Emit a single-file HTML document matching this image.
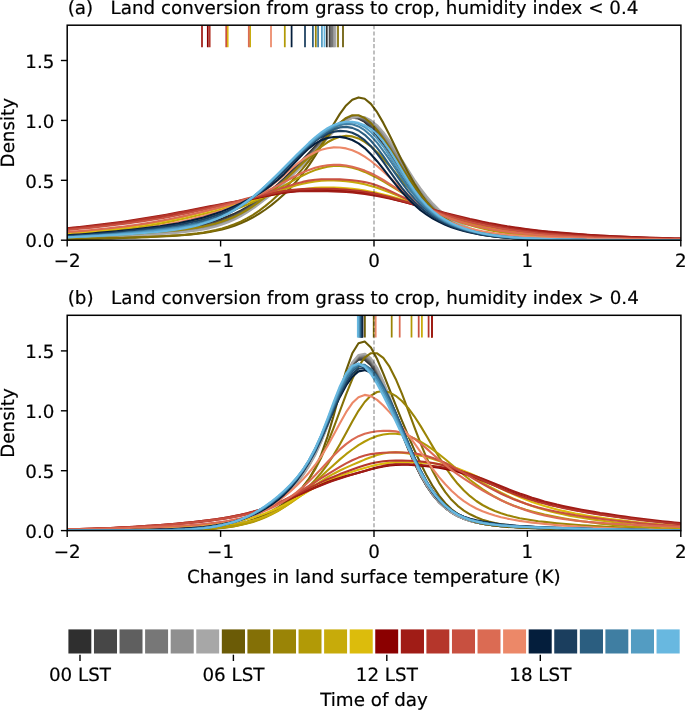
<!DOCTYPE html>
<html><head><meta charset="utf-8"><title>Figure</title>
<style>html,body{margin:0;padding:0;background:#fff}svg{display:block;will-change:transform}
text{font-family:"DejaVu Sans","Liberation Sans",sans-serif;font-size:18.3px;fill:#000;stroke:#000;stroke-width:0.2px;text-rendering:geometricPrecision}</style></head>
<body><svg width="685" height="710" viewBox="0 0 685 710">
<rect width="685" height="710" fill="#fff"/>
<clipPath id="clipa"><rect x="67.2" y="25.2" width="613.7" height="215.0"/></clipPath>
<g clip-path="url(#clipa)" fill="none" stroke-width="2.1" stroke-linejoin="round">
<path d="M67.2 238.0 L73.3 237.7 L79.5 237.4 L85.7 237.1 L91.9 236.8 L98.1 236.4 L104.3 236.1 L110.5 235.7 L116.7 235.2 L122.9 234.8 L129.1 234.3 L135.3 233.7 L141.5 233.2 L147.7 232.6 L153.9 232.0 L160.1 231.3 L166.3 230.6 L172.5 229.8 L178.7 228.9 L184.9 227.9 L191.1 226.8 L197.3 225.6 L203.5 224.2 L209.7 222.6 L215.9 220.8 L222.1 218.7 L228.3 216.3 L234.5 213.6 L240.7 210.6 L246.9 207.2 L253.1 203.4 L259.3 199.2 L265.5 194.6 L271.7 189.6 L277.9 184.3 L284.1 178.6 L290.3 172.6 L296.5 166.3 L302.7 159.8 L308.9 153.2 L315.1 146.5 L321.3 140.0 L327.5 133.7 L333.7 127.8 L339.9 122.9 L346.1 119.3 L352.3 117.7 L358.5 118.5 L364.7 121.9 L370.9 127.9 L377.1 135.9 L383.3 145.3 L389.5 155.4 L395.7 165.5 L401.9 175.3 L408.1 184.4 L414.3 192.7 L420.5 200.2 L426.7 206.7 L432.9 212.4 L439.1 217.2 L445.3 221.3 L451.5 224.6 L457.7 227.4 L463.9 229.7 L470.1 231.5 L476.3 233.0 L482.5 234.3 L488.7 235.3 L494.9 236.1 L501.1 236.7 L507.3 237.3 L513.5 237.7 L519.7 238.1 L525.9 238.4 L532.1 238.7 L538.3 238.9 L544.5 239.1 L550.7 239.2 L556.9 239.4 L563.1 239.5 L569.3 239.6 L575.5 239.7 L581.7 239.7 L587.9 239.8 L594.1 239.9 L600.3 239.9 L606.5 240.0 L612.7 240.0 L618.9 240.0 L625.1 240.1 L631.3 240.1 L637.5 240.1 L643.7 240.1 L649.9 240.1 L656.1 240.1 L662.3 240.2 L668.5 240.2 L674.7 240.2 L680.8 240.2" stroke="#2f2f2f"/>
<path d="M67.2 238.1 L73.3 237.8 L79.5 237.5 L85.7 237.2 L91.9 236.9 L98.1 236.5 L104.3 236.2 L110.5 235.8 L116.7 235.3 L122.9 234.9 L129.1 234.4 L135.3 233.9 L141.5 233.3 L147.7 232.8 L153.9 232.2 L160.1 231.6 L166.3 230.9 L172.5 230.2 L178.7 229.5 L184.9 228.7 L191.1 227.8 L197.3 226.7 L203.5 225.5 L209.7 224.1 L215.9 222.3 L222.1 220.3 L228.3 217.9 L234.5 215.1 L240.7 211.9 L246.9 208.2 L253.1 204.1 L259.3 199.7 L265.5 195.0 L271.7 189.9 L277.9 184.7 L284.1 179.2 L290.3 173.5 L296.5 167.6 L302.7 161.4 L308.9 154.8 L315.1 148.0 L321.3 141.1 L327.5 134.4 L333.7 128.3 L339.9 123.1 L346.1 119.4 L352.3 117.6 L358.5 118.0 L364.7 120.8 L370.9 125.9 L377.1 133.0 L383.3 141.7 L389.5 151.4 L395.7 161.6 L401.9 171.7 L408.1 181.4 L414.3 190.3 L420.5 198.2 L426.7 205.1 L432.9 210.9 L439.1 215.9 L445.3 220.0 L451.5 223.5 L457.7 226.4 L463.9 228.7 L470.1 230.7 L476.3 232.4 L482.5 233.7 L488.7 234.8 L494.9 235.7 L501.1 236.5 L507.3 237.1 L513.5 237.6 L519.7 238.1 L525.9 238.4 L532.1 238.7 L538.3 238.9 L544.5 239.1 L550.7 239.3 L556.9 239.4 L563.1 239.5 L569.3 239.6 L575.5 239.7 L581.7 239.8 L587.9 239.9 L594.1 239.9 L600.3 240.0 L606.5 240.0 L612.7 240.0 L618.9 240.1 L625.1 240.1 L631.3 240.1 L637.5 240.1 L643.7 240.1 L649.9 240.1 L656.1 240.2 L662.3 240.2 L668.5 240.2 L674.7 240.2 L680.8 240.2" stroke="#474747"/>
<path d="M67.2 238.2 L73.3 238.0 L79.5 237.7 L85.7 237.4 L91.9 237.1 L98.1 236.8 L104.3 236.4 L110.5 236.0 L116.7 235.6 L122.9 235.2 L129.1 234.7 L135.3 234.3 L141.5 233.8 L147.7 233.2 L153.9 232.7 L160.1 232.1 L166.3 231.5 L172.5 230.9 L178.7 230.2 L184.9 229.5 L191.1 228.6 L197.3 227.6 L203.5 226.5 L209.7 225.1 L215.9 223.4 L222.1 221.4 L228.3 219.0 L234.5 216.2 L240.7 213.0 L246.9 209.3 L253.1 205.2 L259.3 200.8 L265.5 196.0 L271.7 190.9 L277.9 185.7 L284.1 180.2 L290.3 174.5 L296.5 168.6 L302.7 162.3 L308.9 155.8 L315.1 149.0 L321.3 142.1 L327.5 135.4 L333.7 129.1 L339.9 123.7 L346.1 119.7 L352.3 117.6 L358.5 117.5 L364.7 119.8 L370.9 124.3 L377.1 130.9 L383.3 139.2 L389.5 148.6 L395.7 158.6 L401.9 168.7 L408.1 178.5 L414.3 187.6 L420.5 195.8 L426.7 203.0 L432.9 209.1 L439.1 214.4 L445.3 218.8 L451.5 222.5 L457.7 225.5 L463.9 228.0 L470.1 230.1 L476.3 231.9 L482.5 233.3 L488.7 234.5 L494.9 235.5 L501.1 236.3 L507.3 237.0 L513.5 237.5 L519.7 238.0 L525.9 238.4 L532.1 238.7 L538.3 238.9 L544.5 239.1 L550.7 239.3 L556.9 239.4 L563.1 239.6 L569.3 239.7 L575.5 239.7 L581.7 239.8 L587.9 239.9 L594.1 239.9 L600.3 240.0 L606.5 240.0 L612.7 240.0 L618.9 240.1 L625.1 240.1 L631.3 240.1 L637.5 240.1 L643.7 240.1 L649.9 240.1 L656.1 240.2 L662.3 240.2 L668.5 240.2 L674.7 240.2 L680.8 240.2" stroke="#5f5f5f"/>
<path d="M67.2 238.3 L73.3 238.1 L79.5 237.9 L85.7 237.6 L91.9 237.3 L98.1 237.0 L104.3 236.7 L110.5 236.3 L116.7 235.9 L122.9 235.5 L129.1 235.1 L135.3 234.7 L141.5 234.2 L147.7 233.8 L153.9 233.3 L160.1 232.7 L166.3 232.2 L172.5 231.6 L178.7 231.0 L184.9 230.3 L191.1 229.5 L197.3 228.5 L203.5 227.4 L209.7 226.1 L215.9 224.5 L222.1 222.5 L228.3 220.1 L234.5 217.4 L240.7 214.1 L246.9 210.4 L253.1 206.3 L259.3 201.8 L265.5 197.0 L271.7 192.0 L277.9 186.7 L284.1 181.2 L290.3 175.5 L296.5 169.5 L302.7 163.3 L308.9 156.8 L315.1 150.0 L321.3 143.1 L327.5 136.3 L333.7 129.9 L339.9 124.4 L346.1 120.1 L352.3 117.6 L358.5 117.1 L364.7 118.9 L370.9 122.9 L377.1 128.9 L383.3 136.7 L389.5 145.8 L395.7 155.6 L401.9 165.7 L408.1 175.6 L414.3 184.9 L420.5 193.3 L426.7 200.8 L432.9 207.3 L439.1 212.9 L445.3 217.5 L451.5 221.4 L457.7 224.6 L463.9 227.3 L470.1 229.5 L476.3 231.4 L482.5 232.9 L488.7 234.2 L494.9 235.3 L501.1 236.1 L507.3 236.9 L513.5 237.5 L519.7 238.0 L525.9 238.4 L532.1 238.7 L538.3 239.0 L544.5 239.2 L550.7 239.4 L556.9 239.5 L563.1 239.6 L569.3 239.7 L575.5 239.8 L581.7 239.9 L587.9 239.9 L594.1 240.0 L600.3 240.0 L606.5 240.0 L612.7 240.1 L618.9 240.1 L625.1 240.1 L631.3 240.1 L637.5 240.1 L643.7 240.1 L649.9 240.2 L656.1 240.2 L662.3 240.2 L668.5 240.2 L674.7 240.2 L680.8 240.2" stroke="#777777"/>
<path d="M67.2 238.4 L73.3 238.2 L79.5 238.0 L85.7 237.8 L91.9 237.5 L98.1 237.2 L104.3 236.9 L110.5 236.6 L116.7 236.2 L122.9 235.9 L129.1 235.5 L135.3 235.1 L141.5 234.7 L147.7 234.3 L153.9 233.8 L160.1 233.4 L166.3 232.9 L172.5 232.3 L178.7 231.8 L184.9 231.1 L191.1 230.4 L197.3 229.5 L203.5 228.4 L209.7 227.1 L215.9 225.5 L222.1 223.6 L228.3 221.2 L234.5 218.5 L240.7 215.2 L246.9 211.6 L253.1 207.4 L259.3 202.9 L265.5 198.1 L271.7 193.0 L277.9 187.7 L284.1 182.2 L290.3 176.4 L296.5 170.5 L302.7 164.3 L308.9 157.8 L315.1 151.0 L321.3 144.1 L327.5 137.3 L333.7 130.8 L339.9 125.1 L346.1 120.6 L352.3 117.7 L358.5 116.8 L364.7 118.0 L370.9 121.5 L377.1 127.0 L383.3 134.4 L389.5 143.1 L395.7 152.8 L401.9 162.8 L408.1 172.7 L414.3 182.2 L420.5 190.9 L426.7 198.7 L432.9 205.5 L439.1 211.3 L445.3 216.2 L451.5 220.3 L457.7 223.7 L463.9 226.6 L470.1 228.9 L476.3 230.9 L482.5 232.5 L488.7 233.9 L494.9 235.0 L501.1 236.0 L507.3 236.8 L513.5 237.4 L519.7 237.9 L525.9 238.4 L532.1 238.7 L538.3 239.0 L544.5 239.2 L550.7 239.4 L556.9 239.6 L563.1 239.7 L569.3 239.8 L575.5 239.8 L581.7 239.9 L587.9 240.0 L594.1 240.0 L600.3 240.0 L606.5 240.1 L612.7 240.1 L618.9 240.1 L625.1 240.1 L631.3 240.1 L637.5 240.1 L643.7 240.2 L649.9 240.2 L656.1 240.2 L662.3 240.2 L668.5 240.2 L674.7 240.2 L680.8 240.2" stroke="#8f8f8f"/>
<path d="M67.2 238.6 L73.3 238.4 L79.5 238.2 L85.7 237.9 L91.9 237.7 L98.1 237.4 L104.3 237.2 L110.5 236.9 L116.7 236.6 L122.9 236.2 L129.1 235.9 L135.3 235.6 L141.5 235.2 L147.7 234.8 L153.9 234.4 L160.1 234.0 L166.3 233.6 L172.5 233.1 L178.7 232.6 L184.9 231.9 L191.1 231.2 L197.3 230.4 L203.5 229.4 L209.7 228.1 L215.9 226.5 L222.1 224.6 L228.3 222.3 L234.5 219.6 L240.7 216.3 L246.9 212.7 L253.1 208.5 L259.3 204.0 L265.5 199.2 L271.7 194.1 L277.9 188.7 L284.1 183.2 L290.3 177.4 L296.5 171.4 L302.7 165.2 L308.9 158.7 L315.1 152.0 L321.3 145.1 L327.5 138.2 L333.7 131.7 L339.9 125.9 L346.1 121.1 L352.3 117.9 L358.5 116.5 L364.7 117.3 L370.9 120.2 L377.1 125.2 L383.3 132.1 L389.5 140.5 L395.7 150.0 L401.9 159.9 L408.1 169.9 L414.3 179.5 L420.5 188.4 L426.7 196.5 L432.9 203.6 L439.1 209.7 L445.3 214.9 L451.5 219.2 L457.7 222.8 L463.9 225.8 L470.1 228.3 L476.3 230.4 L482.5 232.2 L488.7 233.6 L494.9 234.8 L501.1 235.8 L507.3 236.7 L513.5 237.3 L519.7 237.9 L525.9 238.4 L532.1 238.7 L538.3 239.0 L544.5 239.3 L550.7 239.5 L556.9 239.6 L563.1 239.7 L569.3 239.8 L575.5 239.9 L581.7 240.0 L587.9 240.0 L594.1 240.0 L600.3 240.1 L606.5 240.1 L612.7 240.1 L618.9 240.1 L625.1 240.1 L631.3 240.2 L637.5 240.2 L643.7 240.2 L649.9 240.2 L656.1 240.2 L662.3 240.2 L668.5 240.2 L674.7 240.2 L680.8 240.2" stroke="#a7a7a7"/>
<path d="M67.2 239.3 L73.3 239.2 L79.5 239.1 L85.7 239.0 L91.9 238.8 L98.1 238.7 L104.3 238.5 L110.5 238.4 L116.7 238.2 L122.9 238.0 L129.1 237.8 L135.3 237.6 L141.5 237.3 L147.7 237.1 L153.9 236.8 L160.1 236.5 L166.3 236.2 L172.5 235.9 L178.7 235.5 L184.9 235.0 L191.1 234.4 L197.3 233.8 L203.5 233.0 L209.7 232.0 L215.9 230.8 L222.1 229.4 L228.3 227.7 L234.5 225.7 L240.7 223.3 L246.9 220.5 L253.1 217.3 L259.3 213.7 L265.5 209.5 L271.7 204.9 L277.9 199.8 L284.1 194.2 L290.3 188.0 L296.5 181.2 L302.7 173.7 L308.9 165.3 L315.1 155.9 L321.3 145.7 L327.5 134.9 L333.7 124.0 L339.9 113.9 L346.1 105.4 L352.3 99.7 L358.5 97.4 L364.7 98.8 L370.9 103.9 L377.1 112.2 L383.3 122.9 L389.5 135.0 L395.7 147.8 L401.9 160.6 L408.1 172.6 L414.3 183.6 L420.5 193.4 L426.7 201.9 L432.9 209.0 L439.1 214.9 L445.3 219.8 L451.5 223.8 L457.7 227.0 L463.9 229.6 L470.1 231.6 L476.3 233.3 L482.5 234.6 L488.7 235.7 L494.9 236.5 L501.1 237.2 L507.3 237.7 L513.5 238.1 L519.7 238.5 L525.9 238.7 L532.1 238.9 L538.3 239.1 L544.5 239.3 L550.7 239.4 L556.9 239.5 L563.1 239.6 L569.3 239.7 L575.5 239.7 L581.7 239.8 L587.9 239.8 L594.1 239.9 L600.3 239.9 L606.5 240.0 L612.7 240.0 L618.9 240.0 L625.1 240.1 L631.3 240.1 L637.5 240.1 L643.7 240.1 L649.9 240.1 L656.1 240.1 L662.3 240.1 L668.5 240.2 L674.7 240.2 L680.8 240.2" stroke="#6b5b06"/>
<path d="M67.2 239.1 L73.3 239.0 L79.5 238.9 L85.7 238.7 L91.9 238.6 L98.1 238.4 L104.3 238.3 L110.5 238.1 L116.7 237.9 L122.9 237.7 L129.1 237.5 L135.3 237.3 L141.5 237.1 L147.7 236.9 L153.9 236.6 L160.1 236.3 L166.3 236.0 L172.5 235.6 L178.7 235.2 L184.9 234.7 L191.1 234.1 L197.3 233.4 L203.5 232.5 L209.7 231.4 L215.9 230.1 L222.1 228.5 L228.3 226.6 L234.5 224.3 L240.7 221.6 L246.9 218.4 L253.1 214.8 L259.3 210.6 L265.5 205.9 L271.7 200.8 L277.9 195.1 L284.1 189.1 L290.3 182.6 L296.5 175.7 L302.7 168.6 L308.9 161.0 L315.1 153.2 L321.3 145.1 L327.5 137.0 L333.7 129.4 L339.9 122.8 L346.1 117.9 L352.3 115.3 L358.5 115.3 L364.7 118.0 L370.9 123.1 L377.1 130.2 L383.3 138.6 L389.5 148.0 L395.7 157.9 L401.9 167.8 L408.1 177.4 L414.3 186.4 L420.5 194.7 L426.7 202.1 L432.9 208.6 L439.1 214.1 L445.3 218.8 L451.5 222.7 L457.7 226.0 L463.9 228.6 L470.1 230.8 L476.3 232.6 L482.5 234.0 L488.7 235.1 L494.9 236.0 L501.1 236.8 L507.3 237.3 L513.5 237.8 L519.7 238.2 L525.9 238.4 L532.1 238.7 L538.3 238.9 L544.5 239.0 L550.7 239.2 L556.9 239.3 L563.1 239.4 L569.3 239.5 L575.5 239.6 L581.7 239.7 L587.9 239.7 L594.1 239.8 L600.3 239.8 L606.5 239.9 L612.7 239.9 L618.9 239.9 L625.1 240.0 L631.3 240.0 L637.5 240.0 L643.7 240.1 L649.9 240.1 L656.1 240.1 L662.3 240.1 L668.5 240.1 L674.7 240.1 L680.8 240.1" stroke="#847006"/>
<path d="M67.2 237.7 L73.3 237.4 L79.5 237.1 L85.7 236.8 L91.9 236.5 L98.1 236.2 L104.3 235.8 L110.5 235.4 L116.7 235.1 L122.9 234.6 L129.1 234.2 L135.3 233.8 L141.5 233.3 L147.7 232.8 L153.9 232.3 L160.1 231.8 L166.3 231.3 L172.5 230.7 L178.7 230.1 L184.9 229.4 L191.1 228.5 L197.3 227.6 L203.5 226.5 L209.7 225.1 L215.9 223.5 L222.1 221.6 L228.3 219.3 L234.5 216.7 L240.7 213.6 L246.9 210.0 L253.1 206.1 L259.3 201.7 L265.5 196.9 L271.7 191.8 L277.9 186.4 L284.1 180.8 L290.3 174.9 L296.5 169.0 L302.7 163.0 L308.9 157.2 L315.1 151.6 L321.3 146.6 L327.5 142.3 L333.7 139.0 L339.9 136.7 L346.1 135.9 L352.3 136.4 L358.5 138.4 L364.7 141.8 L370.9 146.4 L377.1 152.2 L383.3 158.7 L389.5 165.8 L395.7 173.2 L401.9 180.5 L408.1 187.6 L414.3 194.4 L420.5 200.6 L426.7 206.2 L432.9 211.2 L439.1 215.5 L445.3 219.3 L451.5 222.5 L457.7 225.3 L463.9 227.6 L470.1 229.5 L476.3 231.2 L482.5 232.5 L488.7 233.7 L494.9 234.6 L501.1 235.4 L507.3 236.1 L513.5 236.7 L519.7 237.1 L525.9 237.5 L532.1 237.9 L538.3 238.2 L544.5 238.4 L550.7 238.6 L556.9 238.8 L563.1 239.0 L569.3 239.1 L575.5 239.3 L581.7 239.4 L587.9 239.5 L594.1 239.6 L600.3 239.7 L606.5 239.7 L612.7 239.8 L618.9 239.8 L625.1 239.9 L631.3 239.9 L637.5 240.0 L643.7 240.0 L649.9 240.0 L656.1 240.1 L662.3 240.1 L668.5 240.1 L674.7 240.1 L680.8 240.1" stroke="#9a8406"/>
<path d="M67.2 234.8 L73.3 234.5 L79.5 234.1 L85.7 233.7 L91.9 233.3 L98.1 232.8 L104.3 232.3 L110.5 231.8 L116.7 231.2 L122.9 230.6 L129.1 229.9 L135.3 229.2 L141.5 228.5 L147.7 227.7 L153.9 226.9 L160.1 226.0 L166.3 225.1 L172.5 224.1 L178.7 223.0 L184.9 221.9 L191.1 220.8 L197.3 219.5 L203.5 218.2 L209.7 216.8 L215.9 215.2 L222.1 213.5 L228.3 211.6 L234.5 209.5 L240.7 207.3 L246.9 204.8 L253.1 202.0 L259.3 199.1 L265.5 195.9 L271.7 192.6 L277.9 189.1 L284.1 185.6 L290.3 182.1 L296.5 178.7 L302.7 175.5 L308.9 172.6 L315.1 170.1 L321.3 168.2 L327.5 166.8 L333.7 166.0 L339.9 165.9 L346.1 166.5 L352.3 167.7 L358.5 169.5 L364.7 171.9 L370.9 174.7 L377.1 177.9 L383.3 181.4 L389.5 185.0 L395.7 188.8 L401.9 192.6 L408.1 196.5 L414.3 200.2 L420.5 203.8 L426.7 207.2 L432.9 210.4 L439.1 213.5 L445.3 216.3 L451.5 218.9 L457.7 221.3 L463.9 223.4 L470.1 225.3 L476.3 227.1 L482.5 228.6 L488.7 230.0 L494.9 231.2 L501.1 232.2 L507.3 233.1 L513.5 233.9 L519.7 234.6 L525.9 235.3 L532.1 235.8 L538.3 236.3 L544.5 236.7 L550.7 237.0 L556.9 237.3 L563.1 237.6 L569.3 237.8 L575.5 238.1 L581.7 238.2 L587.9 238.4 L594.1 238.6 L600.3 238.7 L606.5 238.8 L612.7 238.9 L618.9 239.0 L625.1 239.1 L631.3 239.2 L637.5 239.3 L643.7 239.4 L649.9 239.4 L656.1 239.5 L662.3 239.6 L668.5 239.6 L674.7 239.7 L680.8 239.7" stroke="#b29a06"/>
<path d="M67.2 234.2 L73.3 233.8 L79.5 233.4 L85.7 232.9 L91.9 232.4 L98.1 231.9 L104.3 231.3 L110.5 230.7 L116.7 230.1 L122.9 229.3 L129.1 228.5 L135.3 227.7 L141.5 226.8 L147.7 225.8 L153.9 224.7 L160.1 223.6 L166.3 222.4 L172.5 221.1 L178.7 219.8 L184.9 218.5 L191.1 217.0 L197.3 215.6 L203.5 214.0 L209.7 212.5 L215.9 210.9 L222.1 209.3 L228.3 207.6 L234.5 205.8 L240.7 204.0 L246.9 202.1 L253.1 200.2 L259.3 198.1 L265.5 196.0 L271.7 193.8 L277.9 191.5 L284.1 189.3 L290.3 187.2 L296.5 185.3 L302.7 183.7 L308.9 182.4 L315.1 181.4 L321.3 180.8 L327.5 180.4 L333.7 180.4 L339.9 180.6 L346.1 181.1 L352.3 181.9 L358.5 182.9 L364.7 184.3 L370.9 185.9 L377.1 187.8 L383.3 189.9 L389.5 192.2 L395.7 194.7 L401.9 197.3 L408.1 200.0 L414.3 202.7 L420.5 205.4 L426.7 208.1 L432.9 210.7 L439.1 213.2 L445.3 215.5 L451.5 217.8 L457.7 219.9 L463.9 221.8 L470.1 223.6 L476.3 225.2 L482.5 226.7 L488.7 228.0 L494.9 229.2 L501.1 230.3 L507.3 231.3 L513.5 232.1 L519.7 232.9 L525.9 233.5 L532.1 234.1 L538.3 234.7 L544.5 235.1 L550.7 235.6 L556.9 236.0 L563.1 236.3 L569.3 236.6 L575.5 236.9 L581.7 237.2 L587.9 237.4 L594.1 237.7 L600.3 237.9 L606.5 238.1 L612.7 238.2 L618.9 238.4 L625.1 238.6 L631.3 238.7 L637.5 238.8 L643.7 238.9 L649.9 239.1 L656.1 239.2 L662.3 239.3 L668.5 239.3 L674.7 239.4 L680.8 239.5" stroke="#c7ab0a"/>
<path d="M67.2 233.3 L73.3 232.8 L79.5 232.3 L85.7 231.8 L91.9 231.3 L98.1 230.7 L104.3 230.0 L110.5 229.3 L116.7 228.6 L122.9 227.8 L129.1 226.9 L135.3 226.0 L141.5 225.0 L147.7 224.0 L153.9 222.9 L160.1 221.7 L166.3 220.5 L172.5 219.2 L178.7 217.9 L184.9 216.5 L191.1 215.1 L197.3 213.6 L203.5 212.1 L209.7 210.6 L215.9 209.0 L222.1 207.5 L228.3 205.9 L234.5 204.4 L240.7 202.8 L246.9 201.2 L253.1 199.7 L259.3 198.1 L265.5 196.6 L271.7 195.1 L277.9 193.7 L284.1 192.4 L290.3 191.1 L296.5 190.1 L302.7 189.2 L308.9 188.5 L315.1 187.9 L321.3 187.6 L327.5 187.5 L333.7 187.6 L339.9 187.9 L346.1 188.3 L352.3 188.9 L358.5 189.6 L364.7 190.6 L370.9 191.7 L377.1 192.9 L383.3 194.4 L389.5 196.0 L395.7 197.7 L401.9 199.6 L408.1 201.6 L414.3 203.7 L420.5 205.9 L426.7 208.1 L432.9 210.2 L439.1 212.4 L445.3 214.5 L451.5 216.5 L457.7 218.4 L463.9 220.2 L470.1 221.9 L476.3 223.5 L482.5 225.0 L488.7 226.3 L494.9 227.6 L501.1 228.7 L507.3 229.7 L513.5 230.6 L519.7 231.5 L525.9 232.3 L532.1 232.9 L538.3 233.6 L544.5 234.2 L550.7 234.7 L556.9 235.1 L563.1 235.6 L569.3 236.0 L575.5 236.3 L581.7 236.6 L587.9 236.9 L594.1 237.2 L600.3 237.4 L606.5 237.6 L612.7 237.8 L618.9 238.0 L625.1 238.2 L631.3 238.4 L637.5 238.5 L643.7 238.6 L649.9 238.7 L656.1 238.9 L662.3 239.0 L668.5 239.1 L674.7 239.1 L680.8 239.2" stroke="#dcbc0c"/>
<path d="M67.2 228.8 L73.3 228.3 L79.5 227.6 L85.7 227.0 L91.9 226.4 L98.1 225.7 L104.3 225.0 L110.5 224.3 L116.7 223.5 L122.9 222.7 L129.1 221.9 L135.3 221.0 L141.5 220.1 L147.7 219.2 L153.9 218.2 L160.1 217.2 L166.3 216.1 L172.5 215.0 L178.7 213.9 L184.9 212.7 L191.1 211.5 L197.3 210.2 L203.5 209.0 L209.7 207.7 L215.9 206.4 L222.1 205.2 L228.3 203.9 L234.5 202.6 L240.7 201.4 L246.9 200.1 L253.1 198.8 L259.3 197.5 L265.5 196.3 L271.7 195.0 L277.9 193.8 L284.1 192.8 L290.3 191.9 L296.5 191.2 L302.7 190.7 L308.9 190.3 L315.1 190.1 L321.3 190.0 L327.5 189.9 L333.7 190.1 L339.9 190.3 L346.1 190.7 L352.3 191.3 L358.5 192.0 L364.7 192.9 L370.9 194.0 L377.1 195.2 L383.3 196.6 L389.5 198.1 L395.7 199.7 L401.9 201.3 L408.1 203.0 L414.3 204.8 L420.5 206.6 L426.7 208.4 L432.9 210.2 L439.1 212.0 L445.3 213.7 L451.5 215.3 L457.7 216.9 L463.9 218.5 L470.1 219.9 L476.3 221.3 L482.5 222.6 L488.7 223.8 L494.9 225.0 L501.1 226.0 L507.3 227.0 L513.5 227.9 L519.7 228.8 L525.9 229.6 L532.1 230.3 L538.3 231.0 L544.5 231.6 L550.7 232.2 L556.9 232.8 L563.1 233.3 L569.3 233.7 L575.5 234.2 L581.7 234.6 L587.9 235.0 L594.1 235.4 L600.3 235.7 L606.5 236.0 L612.7 236.3 L618.9 236.6 L625.1 236.9 L631.3 237.1 L637.5 237.4 L643.7 237.6 L649.9 237.8 L656.1 238.0 L662.3 238.2 L668.5 238.3 L674.7 238.5 L680.8 238.6" stroke="#8b0000"/>
<path d="M67.2 228.3 L73.3 227.6 L79.5 227.0 L85.7 226.3 L91.9 225.6 L98.1 224.9 L104.3 224.1 L110.5 223.4 L116.7 222.6 L122.9 221.7 L129.1 220.8 L135.3 219.9 L141.5 218.9 L147.7 217.9 L153.9 216.9 L160.1 215.8 L166.3 214.7 L172.5 213.6 L178.7 212.4 L184.9 211.2 L191.1 210.0 L197.3 208.8 L203.5 207.6 L209.7 206.4 L215.9 205.2 L222.1 204.1 L228.3 202.9 L234.5 201.7 L240.7 200.6 L246.9 199.4 L253.1 198.2 L259.3 196.9 L265.5 195.6 L271.7 194.3 L277.9 193.2 L284.1 192.4 L290.3 191.7 L296.5 191.3 L302.7 191.1 L308.9 191.1 L315.1 191.1 L321.3 191.1 L327.5 191.2 L333.7 191.4 L339.9 191.6 L346.1 192.0 L352.3 192.5 L358.5 193.2 L364.7 194.0 L370.9 194.9 L377.1 196.0 L383.3 197.2 L389.5 198.5 L395.7 200.0 L401.9 201.5 L408.1 203.0 L414.3 204.7 L420.5 206.3 L426.7 208.0 L432.9 209.7 L439.1 211.3 L445.3 213.0 L451.5 214.6 L457.7 216.1 L463.9 217.6 L470.1 219.1 L476.3 220.4 L482.5 221.7 L488.7 223.0 L494.9 224.1 L501.1 225.2 L507.3 226.3 L513.5 227.2 L519.7 228.1 L525.9 229.0 L532.1 229.8 L538.3 230.5 L544.5 231.2 L550.7 231.8 L556.9 232.4 L563.1 232.9 L569.3 233.4 L575.5 233.9 L581.7 234.4 L587.9 234.8 L594.1 235.2 L600.3 235.5 L606.5 235.9 L612.7 236.2 L618.9 236.5 L625.1 236.8 L631.3 237.1 L637.5 237.3 L643.7 237.5 L649.9 237.7 L656.1 237.9 L662.3 238.1 L668.5 238.3 L674.7 238.5 L680.8 238.6" stroke="#a01c16"/>
<path d="M67.2 228.8 L73.3 228.3 L79.5 227.7 L85.7 227.0 L91.9 226.3 L98.1 225.6 L104.3 224.9 L110.5 224.1 L116.7 223.3 L122.9 222.4 L129.1 221.5 L135.3 220.6 L141.5 219.6 L147.7 218.6 L153.9 217.6 L160.1 216.5 L166.3 215.4 L172.5 214.3 L178.7 213.1 L184.9 211.9 L191.1 210.7 L197.3 209.5 L203.5 208.3 L209.7 207.1 L215.9 205.8 L222.1 204.5 L228.3 203.3 L234.5 202.0 L240.7 200.7 L246.9 199.3 L253.1 197.9 L259.3 196.4 L265.5 194.9 L271.7 193.4 L277.9 192.1 L284.1 191.0 L290.3 190.1 L296.5 189.5 L302.7 189.1 L308.9 188.9 L315.1 188.8 L321.3 188.7 L327.5 188.8 L333.7 188.9 L339.9 189.2 L346.1 189.6 L352.3 190.2 L358.5 190.9 L364.7 191.8 L370.9 192.9 L377.1 194.1 L383.3 195.5 L389.5 197.1 L395.7 198.7 L401.9 200.4 L408.1 202.2 L414.3 204.1 L420.5 206.0 L426.7 207.9 L432.9 209.8 L439.1 211.7 L445.3 213.6 L451.5 215.4 L457.7 217.1 L463.9 218.8 L470.1 220.4 L476.3 221.9 L482.5 223.3 L488.7 224.6 L494.9 225.9 L501.1 227.0 L507.3 228.1 L513.5 229.1 L519.7 230.0 L525.9 230.9 L532.1 231.6 L538.3 232.3 L544.5 233.0 L550.7 233.6 L556.9 234.1 L563.1 234.6 L569.3 235.1 L575.5 235.5 L581.7 235.8 L587.9 236.2 L594.1 236.5 L600.3 236.8 L606.5 237.0 L612.7 237.3 L618.9 237.5 L625.1 237.7 L631.3 237.8 L637.5 238.0 L643.7 238.2 L649.9 238.3 L656.1 238.4 L662.3 238.6 L668.5 238.7 L674.7 238.8 L680.8 238.9" stroke="#b5362b"/>
<path d="M67.2 230.0 L73.3 229.4 L79.5 228.8 L85.7 228.2 L91.9 227.6 L98.1 226.9 L104.3 226.2 L110.5 225.5 L116.7 224.7 L122.9 224.0 L129.1 223.1 L135.3 222.3 L141.5 221.4 L147.7 220.5 L153.9 219.5 L160.1 218.5 L166.3 217.4 L172.5 216.2 L178.7 215.0 L184.9 213.8 L191.1 212.5 L197.3 211.1 L203.5 209.7 L209.7 208.2 L215.9 206.6 L222.1 205.1 L228.3 203.5 L234.5 201.9 L240.7 200.2 L246.9 198.5 L253.1 196.9 L259.3 195.1 L265.5 193.3 L271.7 191.5 L277.9 189.5 L284.1 187.5 L290.3 185.4 L296.5 183.5 L302.7 181.9 L308.9 180.6 L315.1 179.8 L321.3 179.3 L327.5 179.2 L333.7 179.2 L339.9 179.4 L346.1 179.7 L352.3 180.2 L358.5 181.0 L364.7 182.1 L370.9 183.6 L377.1 185.5 L383.3 187.9 L389.5 190.7 L395.7 193.6 L401.9 196.7 L408.1 199.8 L414.3 202.8 L420.5 205.6 L426.7 208.3 L432.9 210.8 L439.1 213.1 L445.3 215.2 L451.5 217.1 L457.7 219.0 L463.9 220.7 L470.1 222.2 L476.3 223.7 L482.5 225.1 L488.7 226.3 L494.9 227.5 L501.1 228.6 L507.3 229.6 L513.5 230.5 L519.7 231.3 L525.9 232.1 L532.1 232.8 L538.3 233.5 L544.5 234.0 L550.7 234.6 L556.9 235.1 L563.1 235.5 L569.3 235.9 L575.5 236.3 L581.7 236.6 L587.9 236.9 L594.1 237.2 L600.3 237.5 L606.5 237.7 L612.7 237.9 L618.9 238.1 L625.1 238.3 L631.3 238.5 L637.5 238.7 L643.7 238.8 L649.9 238.9 L656.1 239.1 L662.3 239.2 L668.5 239.3 L674.7 239.4 L680.8 239.4" stroke="#c85040"/>
<path d="M67.2 232.0 L73.3 231.6 L79.5 231.1 L85.7 230.6 L91.9 230.0 L98.1 229.4 L104.3 228.8 L110.5 228.1 L116.7 227.4 L122.9 226.7 L129.1 225.9 L135.3 225.0 L141.5 224.1 L147.7 223.1 L153.9 222.0 L160.1 220.9 L166.3 219.8 L172.5 218.5 L178.7 217.2 L184.9 215.9 L191.1 214.5 L197.3 213.1 L203.5 211.6 L209.7 210.0 L215.9 208.5 L222.1 206.8 L228.3 205.1 L234.5 203.3 L240.7 201.4 L246.9 199.3 L253.1 197.0 L259.3 194.5 L265.5 191.8 L271.7 188.7 L277.9 185.5 L284.1 182.1 L290.3 178.8 L296.5 175.5 L302.7 172.5 L308.9 169.9 L315.1 167.8 L321.3 166.2 L327.5 165.2 L333.7 164.8 L339.9 164.9 L346.1 165.5 L352.3 166.7 L358.5 168.4 L364.7 170.6 L370.9 173.3 L377.1 176.4 L383.3 180.0 L389.5 183.8 L395.7 187.9 L401.9 192.0 L408.1 196.1 L414.3 200.1 L420.5 203.9 L426.7 207.5 L432.9 210.8 L439.1 213.8 L445.3 216.5 L451.5 218.9 L457.7 221.1 L463.9 223.0 L470.1 224.7 L476.3 226.2 L482.5 227.6 L488.7 228.8 L494.9 229.9 L501.1 230.9 L507.3 231.8 L513.5 232.6 L519.7 233.3 L525.9 233.9 L532.1 234.5 L538.3 235.1 L544.5 235.5 L550.7 236.0 L556.9 236.4 L563.1 236.7 L569.3 237.0 L575.5 237.3 L581.7 237.6 L587.9 237.8 L594.1 238.1 L600.3 238.2 L606.5 238.4 L612.7 238.6 L618.9 238.7 L625.1 238.9 L631.3 239.0 L637.5 239.1 L643.7 239.2 L649.9 239.3 L656.1 239.4 L662.3 239.4 L668.5 239.5 L674.7 239.6 L680.8 239.6" stroke="#db6b53"/>
<path d="M67.2 235.2 L73.3 234.9 L79.5 234.6 L85.7 234.2 L91.9 233.9 L98.1 233.4 L104.3 232.9 L110.5 232.4 L116.7 231.8 L122.9 231.2 L129.1 230.4 L135.3 229.7 L141.5 228.8 L147.7 227.9 L153.9 226.9 L160.1 225.8 L166.3 224.6 L172.5 223.4 L178.7 222.1 L184.9 220.7 L191.1 219.2 L197.3 217.6 L203.5 216.0 L209.7 214.2 L215.9 212.4 L222.1 210.4 L228.3 208.2 L234.5 205.9 L240.7 203.3 L246.9 200.5 L253.1 197.3 L259.3 193.8 L265.5 189.8 L271.7 185.4 L277.9 180.4 L284.1 175.1 L290.3 169.7 L296.5 164.4 L302.7 159.6 L308.9 155.5 L315.1 152.2 L321.3 149.7 L327.5 148.2 L333.7 147.4 L339.9 147.5 L346.1 148.4 L352.3 150.3 L358.5 153.0 L364.7 156.6 L370.9 161.0 L377.1 166.0 L383.3 171.5 L389.5 177.3 L395.7 183.2 L401.9 189.0 L408.1 194.6 L414.3 199.9 L420.5 204.8 L426.7 209.3 L432.9 213.3 L439.1 216.8 L445.3 219.9 L451.5 222.6 L457.7 224.9 L463.9 226.9 L470.1 228.6 L476.3 230.0 L482.5 231.3 L488.7 232.3 L494.9 233.3 L501.1 234.1 L507.3 234.8 L513.5 235.4 L519.7 235.9 L525.9 236.4 L532.1 236.8 L538.3 237.2 L544.5 237.5 L550.7 237.8 L556.9 238.0 L563.1 238.2 L569.3 238.4 L575.5 238.6 L581.7 238.8 L587.9 238.9 L594.1 239.0 L600.3 239.1 L606.5 239.2 L612.7 239.3 L618.9 239.3 L625.1 239.4 L631.3 239.5 L637.5 239.5 L643.7 239.6 L649.9 239.6 L656.1 239.6 L662.3 239.7 L668.5 239.7 L674.7 239.7 L680.8 239.8" stroke="#ec8868"/>
<path d="M67.2 235.4 L73.3 234.9 L79.5 234.5 L85.7 234.0 L91.9 233.5 L98.1 232.9 L104.3 232.4 L110.5 231.8 L116.7 231.2 L122.9 230.6 L129.1 230.0 L135.3 229.3 L141.5 228.6 L147.7 227.8 L153.9 227.0 L160.1 226.2 L166.3 225.2 L172.5 224.2 L178.7 223.2 L184.9 221.9 L191.1 220.6 L197.3 219.1 L203.5 217.5 L209.7 215.6 L215.9 213.6 L222.1 211.4 L228.3 208.9 L234.5 206.3 L240.7 203.4 L246.9 200.3 L253.1 196.9 L259.3 193.3 L265.5 189.3 L271.7 184.8 L277.9 179.7 L284.1 173.9 L290.3 167.4 L296.5 160.7 L302.7 154.2 L308.9 148.3 L315.1 143.6 L321.3 140.2 L327.5 138.0 L333.7 137.0 L339.9 136.9 L346.1 137.9 L352.3 140.0 L358.5 143.4 L364.7 148.1 L370.9 154.2 L377.1 161.2 L383.3 168.9 L389.5 176.8 L395.7 184.6 L401.9 192.0 L408.1 198.7 L414.3 204.8 L420.5 210.1 L426.7 214.6 L432.9 218.5 L439.1 221.9 L445.3 224.7 L451.5 227.2 L457.7 229.2 L463.9 231.0 L470.1 232.5 L476.3 233.8 L482.5 234.9 L488.7 235.8 L494.9 236.6 L501.1 237.2 L507.3 237.7 L513.5 238.1 L519.7 238.5 L525.9 238.8 L532.1 239.0 L538.3 239.2 L544.5 239.4 L550.7 239.5 L556.9 239.6 L563.1 239.7 L569.3 239.8 L575.5 239.9 L581.7 239.9 L587.9 240.0 L594.1 240.0 L600.3 240.0 L606.5 240.1 L612.7 240.1 L618.9 240.1 L625.1 240.1 L631.3 240.1 L637.5 240.1 L643.7 240.1 L649.9 240.2 L656.1 240.2 L662.3 240.2 L668.5 240.2 L674.7 240.2 L680.8 240.2" stroke="#041e3c"/>
<path d="M67.2 236.0 L73.3 235.6 L79.5 235.2 L85.7 234.8 L91.9 234.3 L98.1 233.8 L104.3 233.3 L110.5 232.7 L116.7 232.1 L122.9 231.6 L129.1 230.9 L135.3 230.3 L141.5 229.6 L147.7 228.9 L153.9 228.2 L160.1 227.4 L166.3 226.6 L172.5 225.7 L178.7 224.7 L184.9 223.6 L191.1 222.3 L197.3 220.9 L203.5 219.4 L209.7 217.6 L215.9 215.6 L222.1 213.3 L228.3 210.7 L234.5 207.8 L240.7 204.6 L246.9 201.0 L253.1 197.0 L259.3 192.6 L265.5 187.8 L271.7 182.5 L277.9 176.9 L284.1 170.9 L290.3 164.6 L296.5 158.3 L302.7 152.1 L308.9 146.4 L315.1 141.2 L321.3 137.0 L327.5 133.8 L333.7 131.8 L339.9 130.9 L346.1 131.2 L352.3 132.8 L358.5 135.8 L364.7 140.2 L370.9 146.2 L377.1 153.6 L383.3 161.9 L389.5 170.8 L395.7 179.6 L401.9 187.9 L408.1 195.5 L414.3 202.0 L420.5 207.7 L426.7 212.6 L432.9 216.7 L439.1 220.3 L445.3 223.5 L451.5 226.2 L457.7 228.5 L463.9 230.5 L470.1 232.1 L476.3 233.6 L482.5 234.7 L488.7 235.7 L494.9 236.5 L501.1 237.2 L507.3 237.7 L513.5 238.2 L519.7 238.5 L525.9 238.8 L532.1 239.1 L538.3 239.3 L544.5 239.4 L550.7 239.5 L556.9 239.6 L563.1 239.7 L569.3 239.8 L575.5 239.9 L581.7 239.9 L587.9 240.0 L594.1 240.0 L600.3 240.0 L606.5 240.1 L612.7 240.1 L618.9 240.1 L625.1 240.1 L631.3 240.1 L637.5 240.1 L643.7 240.2 L649.9 240.2 L656.1 240.2 L662.3 240.2 L668.5 240.2 L674.7 240.2 L680.8 240.2" stroke="#1b3e5e"/>
<path d="M67.2 236.5 L73.3 236.2 L79.5 235.8 L85.7 235.4 L91.9 235.0 L98.1 234.6 L104.3 234.1 L110.5 233.7 L116.7 233.2 L122.9 232.7 L129.1 232.1 L135.3 231.6 L141.5 230.9 L147.7 230.3 L153.9 229.6 L160.1 228.9 L166.3 228.1 L172.5 227.2 L178.7 226.2 L184.9 225.2 L191.1 224.0 L197.3 222.6 L203.5 221.0 L209.7 219.3 L215.9 217.2 L222.1 214.9 L228.3 212.2 L234.5 209.1 L240.7 205.5 L246.9 201.5 L253.1 197.1 L259.3 192.2 L265.5 186.9 L271.7 181.2 L277.9 175.2 L284.1 169.1 L290.3 162.9 L296.5 156.8 L302.7 151.0 L308.9 145.5 L315.1 140.4 L321.3 135.9 L327.5 132.1 L333.7 129.2 L339.9 127.4 L346.1 126.9 L352.3 127.9 L358.5 130.5 L364.7 134.8 L370.9 140.7 L377.1 147.9 L383.3 156.2 L389.5 165.1 L395.7 174.1 L401.9 182.9 L408.1 191.1 L414.3 198.4 L420.5 204.9 L426.7 210.4 L432.9 215.1 L439.1 219.1 L445.3 222.4 L451.5 225.2 L457.7 227.6 L463.9 229.6 L470.1 231.3 L476.3 232.8 L482.5 234.0 L488.7 235.1 L494.9 236.0 L501.1 236.8 L507.3 237.4 L513.5 238.0 L519.7 238.4 L525.9 238.8 L532.1 239.1 L538.3 239.3 L544.5 239.5 L550.7 239.6 L556.9 239.8 L563.1 239.9 L569.3 239.9 L575.5 240.0 L581.7 240.0 L587.9 240.1 L594.1 240.1 L600.3 240.1 L606.5 240.1 L612.7 240.2 L618.9 240.2 L625.1 240.2 L631.3 240.2 L637.5 240.2 L643.7 240.2 L649.9 240.2 L656.1 240.2 L662.3 240.2 L668.5 240.2 L674.7 240.2 L680.8 240.2" stroke="#2b5e80"/>
<path d="M67.2 237.1 L73.3 236.7 L79.5 236.4 L85.7 236.0 L91.9 235.6 L98.1 235.2 L104.3 234.7 L110.5 234.2 L116.7 233.7 L122.9 233.2 L129.1 232.6 L135.3 232.1 L141.5 231.5 L147.7 230.9 L153.9 230.2 L160.1 229.6 L166.3 228.9 L172.5 228.1 L178.7 227.2 L184.9 226.2 L191.1 225.1 L197.3 223.9 L203.5 222.4 L209.7 220.6 L215.9 218.6 L222.1 216.1 L228.3 213.3 L234.5 210.0 L240.7 206.2 L246.9 202.0 L253.1 197.3 L259.3 192.1 L265.5 186.6 L271.7 180.7 L277.9 174.7 L284.1 168.5 L290.3 162.3 L296.5 156.3 L302.7 150.4 L308.9 144.7 L315.1 139.5 L321.3 134.7 L327.5 130.5 L333.7 127.2 L339.9 124.9 L346.1 123.9 L352.3 124.3 L358.5 126.4 L364.7 130.2 L370.9 135.7 L377.1 142.6 L383.3 150.8 L389.5 159.7 L395.7 169.0 L401.9 178.2 L408.1 187.0 L414.3 195.0 L420.5 202.2 L426.7 208.4 L432.9 213.6 L439.1 218.0 L445.3 221.6 L451.5 224.6 L457.7 227.1 L463.9 229.2 L470.1 230.9 L476.3 232.3 L482.5 233.6 L488.7 234.7 L494.9 235.6 L501.1 236.4 L507.3 237.0 L513.5 237.6 L519.7 238.1 L525.9 238.5 L532.1 238.8 L538.3 239.1 L544.5 239.3 L550.7 239.5 L556.9 239.6 L563.1 239.7 L569.3 239.8 L575.5 239.9 L581.7 240.0 L587.9 240.0 L594.1 240.0 L600.3 240.1 L606.5 240.1 L612.7 240.1 L618.9 240.1 L625.1 240.1 L631.3 240.2 L637.5 240.2 L643.7 240.2 L649.9 240.2 L656.1 240.2 L662.3 240.2 L668.5 240.2 L674.7 240.2 L680.8 240.2" stroke="#3f7ea2"/>
<path d="M67.2 237.3 L73.3 237.0 L79.5 236.7 L85.7 236.3 L91.9 235.9 L98.1 235.5 L104.3 235.1 L110.5 234.7 L116.7 234.2 L122.9 233.8 L129.1 233.3 L135.3 232.7 L141.5 232.2 L147.7 231.6 L153.9 231.0 L160.1 230.4 L166.3 229.7 L172.5 228.9 L178.7 228.1 L184.9 227.1 L191.1 226.0 L197.3 224.7 L203.5 223.1 L209.7 221.3 L215.9 219.1 L222.1 216.6 L228.3 213.6 L234.5 210.2 L240.7 206.2 L246.9 201.8 L253.1 197.0 L259.3 191.7 L265.5 186.0 L271.7 180.1 L277.9 173.9 L284.1 167.7 L290.3 161.5 L296.5 155.4 L302.7 149.6 L308.9 144.0 L315.1 138.7 L321.3 133.9 L327.5 129.6 L333.7 126.1 L339.9 123.6 L346.1 122.2 L352.3 122.2 L358.5 123.7 L364.7 127.0 L370.9 132.0 L377.1 138.6 L383.3 146.5 L389.5 155.4 L395.7 164.8 L401.9 174.3 L408.1 183.5 L414.3 192.1 L420.5 199.8 L426.7 206.5 L432.9 212.2 L439.1 216.9 L445.3 220.8 L451.5 224.0 L457.7 226.6 L463.9 228.7 L470.1 230.5 L476.3 231.9 L482.5 233.2 L488.7 234.2 L494.9 235.2 L501.1 236.0 L507.3 236.7 L513.5 237.3 L519.7 237.8 L525.9 238.2 L532.1 238.6 L538.3 238.9 L544.5 239.2 L550.7 239.4 L556.9 239.5 L563.1 239.7 L569.3 239.8 L575.5 239.9 L581.7 239.9 L587.9 240.0 L594.1 240.0 L600.3 240.1 L606.5 240.1 L612.7 240.1 L618.9 240.1 L625.1 240.1 L631.3 240.2 L637.5 240.2 L643.7 240.2 L649.9 240.2 L656.1 240.2 L662.3 240.2 L668.5 240.2 L674.7 240.2 L680.8 240.2" stroke="#539cc2"/>
<path d="M67.2 237.4 L73.3 237.1 L79.5 236.8 L85.7 236.6 L91.9 236.3 L98.1 236.0 L104.3 235.6 L110.5 235.3 L116.7 235.0 L122.9 234.6 L129.1 234.2 L135.3 233.8 L141.5 233.3 L147.7 232.8 L153.9 232.3 L160.1 231.6 L166.3 230.9 L172.5 230.1 L178.7 229.2 L184.9 228.1 L191.1 226.9 L197.3 225.4 L203.5 223.6 L209.7 221.6 L215.9 219.2 L222.1 216.5 L228.3 213.4 L234.5 209.8 L240.7 205.8 L246.9 201.4 L253.1 196.6 L259.3 191.4 L265.5 185.8 L271.7 180.0 L277.9 173.9 L284.1 167.7 L290.3 161.4 L296.5 155.1 L302.7 148.9 L308.9 142.9 L315.1 137.3 L321.3 132.4 L327.5 128.2 L333.7 124.9 L339.9 122.8 L346.1 121.7 L352.3 121.7 L358.5 122.9 L364.7 125.2 L370.9 128.9 L377.1 134.2 L383.3 141.3 L389.5 150.1 L395.7 160.1 L401.9 170.6 L408.1 180.8 L414.3 190.2 L420.5 198.4 L426.7 205.3 L432.9 211.0 L439.1 215.8 L445.3 219.7 L451.5 223.1 L457.7 225.9 L463.9 228.3 L470.1 230.3 L476.3 232.0 L482.5 233.4 L488.7 234.5 L494.9 235.4 L501.1 236.2 L507.3 236.8 L513.5 237.4 L519.7 237.8 L525.9 238.1 L532.1 238.4 L538.3 238.6 L544.5 238.8 L550.7 239.0 L556.9 239.2 L563.1 239.3 L569.3 239.4 L575.5 239.5 L581.7 239.6 L587.9 239.7 L594.1 239.7 L600.3 239.8 L606.5 239.8 L612.7 239.9 L618.9 239.9 L625.1 240.0 L631.3 240.0 L637.5 240.0 L643.7 240.0 L649.9 240.1 L656.1 240.1 L662.3 240.1 L668.5 240.1 L674.7 240.1 L680.8 240.1" stroke="#68b8e0"/>
<line x1="326.8" x2="326.8" y1="25.2" y2="47.3" stroke="#2f2f2f" stroke-width="1.75"/>
<line x1="329.6" x2="329.6" y1="25.2" y2="47.3" stroke="#474747" stroke-width="1.75"/>
<line x1="331" x2="331" y1="25.2" y2="47.3" stroke="#5f5f5f" stroke-width="1.75"/>
<line x1="332.5" x2="332.5" y1="25.2" y2="47.3" stroke="#777777" stroke-width="1.75"/>
<line x1="334" x2="334" y1="25.2" y2="47.3" stroke="#8f8f8f" stroke-width="1.75"/>
<line x1="335.5" x2="335.5" y1="25.2" y2="47.3" stroke="#a7a7a7" stroke-width="1.75"/>
<line x1="343" x2="343" y1="25.2" y2="47.3" stroke="#6b5b06" stroke-width="1.75"/>
<line x1="338" x2="338" y1="25.2" y2="47.3" stroke="#847006" stroke-width="1.75"/>
<line x1="315.8" x2="315.8" y1="25.2" y2="47.3" stroke="#9a8406" stroke-width="1.75"/>
<line x1="284.8" x2="284.8" y1="25.2" y2="47.3" stroke="#b29a06" stroke-width="1.75"/>
<line x1="250.1" x2="250.1" y1="25.2" y2="47.3" stroke="#c7ab0a" stroke-width="1.75"/>
<line x1="227.7" x2="227.7" y1="25.2" y2="47.3" stroke="#dcbc0c" stroke-width="1.75"/>
<line x1="207.8" x2="207.8" y1="25.2" y2="47.3" stroke="#8b0000" stroke-width="1.75"/>
<line x1="202.0" x2="202.0" y1="25.2" y2="47.3" stroke="#a01c16" stroke-width="1.75"/>
<line x1="209.7" x2="209.7" y1="25.2" y2="47.3" stroke="#b5362b" stroke-width="1.75"/>
<line x1="226.2" x2="226.2" y1="25.2" y2="47.3" stroke="#c85040" stroke-width="1.75"/>
<line x1="248.8" x2="248.8" y1="25.2" y2="47.3" stroke="#db6b53" stroke-width="1.75"/>
<line x1="271.0" x2="271.0" y1="25.2" y2="47.3" stroke="#ec8868" stroke-width="1.75"/>
<line x1="291.6" x2="291.6" y1="25.2" y2="47.3" stroke="#041e3c" stroke-width="1.75"/>
<line x1="305.0" x2="305.0" y1="25.2" y2="47.3" stroke="#1b3e5e" stroke-width="1.75"/>
<line x1="312.9" x2="312.9" y1="25.2" y2="47.3" stroke="#2b5e80" stroke-width="1.75"/>
<line x1="318.1" x2="318.1" y1="25.2" y2="47.3" stroke="#3f7ea2" stroke-width="1.75"/>
<line x1="321.9" x2="321.9" y1="25.2" y2="47.3" stroke="#539cc2" stroke-width="1.75"/>
<line x1="324.5" x2="324.5" y1="25.2" y2="47.3" stroke="#68b8e0" stroke-width="1.75"/>
<line x1="374.0" x2="374.0" y1="25.2" y2="240.2" stroke="#000" stroke-opacity="0.42" stroke-width="1.2" stroke-dasharray="4.1 2.2"/>
</g>
<rect x="67.2" y="25.2" width="613.7" height="215.0" fill="none" stroke="#000" stroke-width="1.5"/>
<line x1="67.2" x2="67.2" y1="240.2" y2="246.5" stroke="#000" stroke-width="1.4"/>
<text x="67.2" y="267.15" text-anchor="middle">−2</text>
<line x1="220.6" x2="220.6" y1="240.2" y2="246.5" stroke="#000" stroke-width="1.4"/>
<text x="220.6" y="267.15" text-anchor="middle">−1</text>
<line x1="374.0" x2="374.0" y1="240.2" y2="246.5" stroke="#000" stroke-width="1.4"/>
<text x="374.0" y="267.15" text-anchor="middle">0</text>
<line x1="527.4" x2="527.4" y1="240.2" y2="246.5" stroke="#000" stroke-width="1.4"/>
<text x="527.4" y="267.15" text-anchor="middle">1</text>
<line x1="680.8" x2="680.8" y1="240.2" y2="246.5" stroke="#000" stroke-width="1.4"/>
<text x="680.8" y="267.15" text-anchor="middle">2</text>
<line x1="60.9" x2="67.2" y1="240.2" y2="240.2" stroke="#000" stroke-width="1.4"/>
<text x="54.45" y="247.4" text-anchor="end">0.0</text>
<line x1="60.9" x2="67.2" y1="180.3" y2="180.3" stroke="#000" stroke-width="1.4"/>
<text x="54.45" y="187.5" text-anchor="end">0.5</text>
<line x1="60.9" x2="67.2" y1="120.4" y2="120.4" stroke="#000" stroke-width="1.4"/>
<text x="54.45" y="127.6" text-anchor="end">1.0</text>
<line x1="60.9" x2="67.2" y1="60.5" y2="60.5" stroke="#000" stroke-width="1.4"/>
<text x="54.45" y="67.7" text-anchor="end">1.5</text>
<text x="67.7" y="13.9" xml:space="preserve" style="white-space:pre">(a)   Land conversion from grass to crop, humidity index &lt; 0.4</text>
<text transform="translate(14.3 132.7) rotate(-90)" text-anchor="middle">Density</text>
<clipPath id="clipb"><rect x="67.2" y="315.3" width="613.7" height="215.3"/></clipPath>
<g clip-path="url(#clipb)" fill="none" stroke-width="2.1" stroke-linejoin="round">
<path d="M67.2 530.6 L73.3 530.6 L79.5 530.6 L85.7 530.6 L91.9 530.6 L98.1 530.5 L104.3 530.5 L110.5 530.5 L116.7 530.5 L122.9 530.5 L129.1 530.5 L135.3 530.4 L141.5 530.4 L147.7 530.4 L153.9 530.3 L160.1 530.2 L166.3 530.1 L172.5 530.0 L178.7 529.8 L184.9 529.5 L191.1 529.2 L197.3 528.8 L203.5 528.2 L209.7 527.5 L215.9 526.6 L222.1 525.5 L228.3 524.1 L234.5 522.4 L240.7 520.3 L246.9 517.9 L253.1 515.0 L259.3 511.7 L265.5 507.9 L271.7 503.6 L277.9 498.8 L284.1 493.5 L290.3 487.4 L296.5 480.5 L302.7 472.4 L308.9 462.9 L315.1 451.5 L321.3 438.1 L327.5 422.8 L333.7 406.2 L339.9 389.9 L346.1 375.6 L352.3 365.0 L358.5 359.6 L364.7 359.7 L370.9 365.1 L377.1 374.7 L383.3 387.5 L389.5 402.2 L395.7 417.9 L401.9 433.6 L408.1 448.8 L414.3 462.9 L420.5 475.4 L426.7 486.1 L432.9 495.1 L439.1 502.3 L445.3 508.1 L451.5 512.5 L457.7 516.0 L463.9 518.7 L470.1 520.8 L476.3 522.4 L482.5 523.6 L488.7 524.6 L494.9 525.4 L501.1 526.0 L507.3 526.5 L513.5 527.0 L519.7 527.3 L525.9 527.6 L532.1 527.9 L538.3 528.1 L544.5 528.3 L550.7 528.5 L556.9 528.6 L563.1 528.8 L569.3 528.9 L575.5 529.1 L581.7 529.2 L587.9 529.3 L594.1 529.4 L600.3 529.5 L606.5 529.6 L612.7 529.7 L618.9 529.8 L625.1 529.9 L631.3 530.0 L637.5 530.0 L643.7 530.1 L649.9 530.2 L656.1 530.2 L662.3 530.3 L668.5 530.3 L674.7 530.3 L680.8 530.4" stroke="#2f2f2f"/>
<path d="M67.2 530.6 L73.3 530.6 L79.5 530.6 L85.7 530.6 L91.9 530.6 L98.1 530.6 L104.3 530.5 L110.5 530.5 L116.7 530.5 L122.9 530.5 L129.1 530.5 L135.3 530.5 L141.5 530.4 L147.7 530.4 L153.9 530.3 L160.1 530.2 L166.3 530.1 L172.5 530.0 L178.7 529.8 L184.9 529.6 L191.1 529.3 L197.3 528.8 L203.5 528.3 L209.7 527.6 L215.9 526.7 L222.1 525.6 L228.3 524.2 L234.5 522.5 L240.7 520.5 L246.9 518.1 L253.1 515.3 L259.3 512.0 L265.5 508.3 L271.7 504.1 L277.9 499.3 L284.1 494.0 L290.3 488.0 L296.5 481.1 L302.7 473.1 L308.9 463.6 L315.1 452.3 L321.3 438.9 L327.5 423.5 L333.7 406.8 L339.9 390.2 L346.1 375.4 L352.3 364.5 L358.5 358.6 L364.7 358.5 L370.9 363.7 L377.1 373.4 L383.3 386.2 L389.5 401.1 L395.7 416.9 L401.9 432.9 L408.1 448.2 L414.3 462.4 L420.5 475.1 L426.7 485.9 L432.9 494.9 L439.1 502.2 L445.3 508.0 L451.5 512.5 L457.7 516.0 L463.9 518.7 L470.1 520.8 L476.3 522.4 L482.5 523.7 L488.7 524.6 L494.9 525.4 L501.1 526.1 L507.3 526.6 L513.5 527.0 L519.7 527.3 L525.9 527.6 L532.1 527.8 L538.3 528.1 L544.5 528.3 L550.7 528.4 L556.9 528.6 L563.1 528.8 L569.3 528.9 L575.5 529.0 L581.7 529.2 L587.9 529.3 L594.1 529.4 L600.3 529.5 L606.5 529.6 L612.7 529.7 L618.9 529.8 L625.1 529.9 L631.3 530.0 L637.5 530.0 L643.7 530.1 L649.9 530.1 L656.1 530.2 L662.3 530.2 L668.5 530.3 L674.7 530.3 L680.8 530.4" stroke="#474747"/>
<path d="M67.2 530.6 L73.3 530.6 L79.5 530.6 L85.7 530.6 L91.9 530.6 L98.1 530.6 L104.3 530.5 L110.5 530.5 L116.7 530.5 L122.9 530.5 L129.1 530.5 L135.3 530.5 L141.5 530.4 L147.7 530.4 L153.9 530.3 L160.1 530.3 L166.3 530.2 L172.5 530.0 L178.7 529.9 L184.9 529.6 L191.1 529.3 L197.3 528.9 L203.5 528.4 L209.7 527.7 L215.9 526.8 L222.1 525.7 L228.3 524.4 L234.5 522.7 L240.7 520.7 L246.9 518.4 L253.1 515.6 L259.3 512.3 L265.5 508.7 L271.7 504.5 L277.9 499.8 L284.1 494.5 L290.3 488.5 L296.5 481.7 L302.7 473.8 L308.9 464.3 L315.1 453.0 L321.3 439.6 L327.5 424.2 L333.7 407.3 L339.9 390.4 L346.1 375.3 L352.3 363.9 L358.5 357.7 L364.7 357.3 L370.9 362.3 L377.1 372.0 L383.3 385.0 L389.5 400.0 L395.7 416.0 L401.9 432.1 L408.1 447.6 L414.3 462.0 L420.5 474.7 L426.7 485.7 L432.9 494.8 L439.1 502.2 L445.3 508.0 L451.5 512.5 L457.7 516.1 L463.9 518.7 L470.1 520.8 L476.3 522.4 L482.5 523.7 L488.7 524.7 L494.9 525.4 L501.1 526.1 L507.3 526.6 L513.5 527.0 L519.7 527.3 L525.9 527.6 L532.1 527.8 L538.3 528.1 L544.5 528.3 L550.7 528.4 L556.9 528.6 L563.1 528.7 L569.3 528.9 L575.5 529.0 L581.7 529.1 L587.9 529.3 L594.1 529.4 L600.3 529.5 L606.5 529.6 L612.7 529.7 L618.9 529.8 L625.1 529.9 L631.3 529.9 L637.5 530.0 L643.7 530.1 L649.9 530.1 L656.1 530.2 L662.3 530.2 L668.5 530.3 L674.7 530.3 L680.8 530.4" stroke="#5f5f5f"/>
<path d="M67.2 530.6 L73.3 530.6 L79.5 530.6 L85.7 530.6 L91.9 530.6 L98.1 530.6 L104.3 530.6 L110.5 530.5 L116.7 530.5 L122.9 530.5 L129.1 530.5 L135.3 530.5 L141.5 530.4 L147.7 530.4 L153.9 530.4 L160.1 530.3 L166.3 530.2 L172.5 530.1 L178.7 529.9 L184.9 529.7 L191.1 529.4 L197.3 529.0 L203.5 528.4 L209.7 527.8 L215.9 526.9 L222.1 525.9 L228.3 524.5 L234.5 522.9 L240.7 520.9 L246.9 518.6 L253.1 515.9 L259.3 512.7 L265.5 509.0 L271.7 504.9 L277.9 500.3 L284.1 495.0 L290.3 489.1 L296.5 482.4 L302.7 474.4 L308.9 465.1 L315.1 453.8 L321.3 440.4 L327.5 424.9 L333.7 407.9 L339.9 390.7 L346.1 375.2 L352.3 363.4 L358.5 356.8 L364.7 356.0 L370.9 361.0 L377.1 370.6 L383.3 383.7 L389.5 398.9 L395.7 415.1 L401.9 431.4 L408.1 447.1 L414.3 461.5 L420.5 474.4 L426.7 485.5 L432.9 494.7 L439.1 502.1 L445.3 508.0 L451.5 512.5 L457.7 516.1 L463.9 518.8 L470.1 520.9 L476.3 522.5 L482.5 523.7 L488.7 524.7 L494.9 525.5 L501.1 526.1 L507.3 526.6 L513.5 527.0 L519.7 527.3 L525.9 527.6 L532.1 527.8 L538.3 528.0 L544.5 528.2 L550.7 528.4 L556.9 528.6 L563.1 528.7 L569.3 528.9 L575.5 529.0 L581.7 529.1 L587.9 529.3 L594.1 529.4 L600.3 529.5 L606.5 529.6 L612.7 529.7 L618.9 529.8 L625.1 529.8 L631.3 529.9 L637.5 530.0 L643.7 530.1 L649.9 530.1 L656.1 530.2 L662.3 530.2 L668.5 530.3 L674.7 530.3 L680.8 530.3" stroke="#777777"/>
<path d="M67.2 530.6 L73.3 530.6 L79.5 530.6 L85.7 530.6 L91.9 530.6 L98.1 530.6 L104.3 530.6 L110.5 530.5 L116.7 530.5 L122.9 530.5 L129.1 530.5 L135.3 530.5 L141.5 530.5 L147.7 530.4 L153.9 530.4 L160.1 530.3 L166.3 530.2 L172.5 530.1 L178.7 529.9 L184.9 529.7 L191.1 529.4 L197.3 529.0 L203.5 528.5 L209.7 527.9 L215.9 527.0 L222.1 526.0 L228.3 524.7 L234.5 523.1 L240.7 521.1 L246.9 518.8 L253.1 516.1 L259.3 513.0 L265.5 509.4 L271.7 505.3 L277.9 500.7 L284.1 495.6 L290.3 489.7 L296.5 483.0 L302.7 475.1 L308.9 465.8 L315.1 454.5 L321.3 441.1 L327.5 425.5 L333.7 408.4 L339.9 391.0 L346.1 375.2 L352.3 362.9 L358.5 355.9 L364.7 354.9 L370.9 359.6 L377.1 369.2 L383.3 382.4 L389.5 397.7 L395.7 414.1 L401.9 430.6 L408.1 446.5 L414.3 461.1 L420.5 474.1 L426.7 485.3 L432.9 494.5 L439.1 502.0 L445.3 507.9 L451.5 512.5 L457.7 516.1 L463.9 518.8 L470.1 520.9 L476.3 522.5 L482.5 523.7 L488.7 524.7 L494.9 525.5 L501.1 526.1 L507.3 526.6 L513.5 527.0 L519.7 527.3 L525.9 527.6 L532.1 527.8 L538.3 528.0 L544.5 528.2 L550.7 528.4 L556.9 528.6 L563.1 528.7 L569.3 528.9 L575.5 529.0 L581.7 529.1 L587.9 529.2 L594.1 529.3 L600.3 529.5 L606.5 529.6 L612.7 529.7 L618.9 529.7 L625.1 529.8 L631.3 529.9 L637.5 530.0 L643.7 530.0 L649.9 530.1 L656.1 530.2 L662.3 530.2 L668.5 530.3 L674.7 530.3 L680.8 530.3" stroke="#8f8f8f"/>
<path d="M67.2 530.6 L73.3 530.6 L79.5 530.6 L85.7 530.6 L91.9 530.6 L98.1 530.6 L104.3 530.6 L110.5 530.6 L116.7 530.5 L122.9 530.5 L129.1 530.5 L135.3 530.5 L141.5 530.5 L147.7 530.4 L153.9 530.4 L160.1 530.3 L166.3 530.2 L172.5 530.1 L178.7 529.9 L184.9 529.7 L191.1 529.4 L197.3 529.1 L203.5 528.6 L209.7 527.9 L215.9 527.1 L222.1 526.1 L228.3 524.8 L234.5 523.2 L240.7 521.3 L246.9 519.1 L253.1 516.4 L259.3 513.3 L265.5 509.8 L271.7 505.8 L277.9 501.2 L284.1 496.1 L290.3 490.3 L296.5 483.6 L302.7 475.8 L308.9 466.5 L315.1 455.3 L321.3 441.9 L327.5 426.2 L333.7 408.9 L339.9 391.3 L346.1 375.1 L352.3 362.5 L358.5 355.0 L364.7 353.7 L370.9 358.2 L377.1 367.8 L383.3 381.1 L389.5 396.6 L395.7 413.2 L401.9 429.8 L408.1 445.9 L414.3 460.6 L420.5 473.8 L426.7 485.0 L432.9 494.4 L439.1 502.0 L445.3 507.9 L451.5 512.5 L457.7 516.1 L463.9 518.8 L470.1 520.9 L476.3 522.5 L482.5 523.8 L488.7 524.7 L494.9 525.5 L501.1 526.1 L507.3 526.6 L513.5 527.0 L519.7 527.3 L525.9 527.6 L532.1 527.8 L538.3 528.0 L544.5 528.2 L550.7 528.4 L556.9 528.5 L563.1 528.7 L569.3 528.8 L575.5 529.0 L581.7 529.1 L587.9 529.2 L594.1 529.3 L600.3 529.4 L606.5 529.5 L612.7 529.6 L618.9 529.7 L625.1 529.8 L631.3 529.9 L637.5 530.0 L643.7 530.0 L649.9 530.1 L656.1 530.1 L662.3 530.2 L668.5 530.2 L674.7 530.3 L680.8 530.3" stroke="#a7a7a7"/>
<path d="M67.2 530.6 L73.3 530.6 L79.5 530.6 L85.7 530.6 L91.9 530.6 L98.1 530.6 L104.3 530.6 L110.5 530.6 L116.7 530.6 L122.9 530.6 L129.1 530.5 L135.3 530.5 L141.5 530.5 L147.7 530.5 L153.9 530.5 L160.1 530.4 L166.3 530.4 L172.5 530.3 L178.7 530.2 L184.9 530.0 L191.1 529.8 L197.3 529.5 L203.5 529.2 L209.7 528.7 L215.9 528.1 L222.1 527.3 L228.3 526.3 L234.5 525.1 L240.7 523.6 L246.9 521.8 L253.1 519.6 L259.3 517.1 L265.5 514.3 L271.7 511.0 L277.9 507.4 L284.1 503.3 L290.3 498.7 L296.5 493.4 L302.7 487.0 L308.9 479.0 L315.1 468.4 L321.3 454.4 L327.5 436.6 L333.7 415.4 L339.9 392.4 L346.1 370.6 L352.3 353.3 L358.5 343.3 L364.7 341.6 L370.9 347.5 L377.1 359.0 L383.3 373.6 L389.5 389.3 L395.7 405.2 L401.9 420.6 L408.1 435.5 L414.3 449.8 L420.5 463.3 L426.7 475.6 L432.9 486.4 L439.1 495.6 L445.3 503.2 L451.5 509.3 L457.7 513.9 L463.9 517.5 L470.1 520.2 L476.3 522.2 L482.5 523.7 L488.7 524.8 L494.9 525.7 L501.1 526.3 L507.3 526.9 L513.5 527.3 L519.7 527.6 L525.9 527.8 L532.1 528.1 L538.3 528.3 L544.5 528.4 L550.7 528.6 L556.9 528.7 L563.1 528.8 L569.3 529.0 L575.5 529.1 L581.7 529.2 L587.9 529.3 L594.1 529.4 L600.3 529.5 L606.5 529.6 L612.7 529.7 L618.9 529.7 L625.1 529.8 L631.3 529.9 L637.5 530.0 L643.7 530.0 L649.9 530.1 L656.1 530.1 L662.3 530.2 L668.5 530.2 L674.7 530.3 L680.8 530.3" stroke="#6b5b06"/>
<path d="M67.2 530.6 L73.3 530.6 L79.5 530.6 L85.7 530.6 L91.9 530.6 L98.1 530.6 L104.3 530.5 L110.5 530.5 L116.7 530.5 L122.9 530.5 L129.1 530.5 L135.3 530.5 L141.5 530.4 L147.7 530.4 L153.9 530.4 L160.1 530.3 L166.3 530.3 L172.5 530.2 L178.7 530.1 L184.9 530.0 L191.1 529.8 L197.3 529.6 L203.5 529.3 L209.7 528.9 L215.9 528.5 L222.1 527.9 L228.3 527.1 L234.5 526.1 L240.7 524.8 L246.9 523.3 L253.1 521.4 L259.3 519.2 L265.5 516.5 L271.7 513.4 L277.9 509.7 L284.1 505.4 L290.3 500.4 L296.5 494.6 L302.7 487.6 L308.9 479.3 L315.1 469.3 L321.3 457.4 L327.5 443.4 L333.7 427.7 L339.9 411.0 L346.1 394.3 L352.3 379.1 L358.5 366.5 L364.7 357.6 L370.9 353.2 L377.1 353.3 L383.3 357.9 L389.5 366.7 L395.7 378.9 L401.9 393.7 L408.1 410.1 L414.3 426.9 L420.5 443.2 L426.7 458.2 L432.9 471.5 L439.1 482.8 L445.3 492.2 L451.5 499.8 L457.7 505.8 L463.9 510.6 L470.1 514.3 L476.3 517.3 L482.5 519.7 L488.7 521.6 L494.9 523.1 L501.1 524.2 L507.3 525.2 L513.5 526.0 L519.7 526.6 L525.9 527.1 L532.1 527.5 L538.3 527.8 L544.5 528.1 L550.7 528.4 L556.9 528.6 L563.1 528.7 L569.3 528.9 L575.5 529.1 L581.7 529.2 L587.9 529.3 L594.1 529.4 L600.3 529.5 L606.5 529.6 L612.7 529.7 L618.9 529.8 L625.1 529.9 L631.3 530.0 L637.5 530.0 L643.7 530.1 L649.9 530.2 L656.1 530.2 L662.3 530.3 L668.5 530.3 L674.7 530.3 L680.8 530.4" stroke="#847006"/>
<path d="M67.2 530.6 L73.3 530.6 L79.5 530.6 L85.7 530.6 L91.9 530.5 L98.1 530.5 L104.3 530.5 L110.5 530.5 L116.7 530.5 L122.9 530.5 L129.1 530.4 L135.3 530.4 L141.5 530.4 L147.7 530.3 L153.9 530.3 L160.1 530.2 L166.3 530.1 L172.5 530.0 L178.7 529.9 L184.9 529.7 L191.1 529.5 L197.3 529.3 L203.5 529.0 L209.7 528.6 L215.9 528.1 L222.1 527.5 L228.3 526.7 L234.5 525.7 L240.7 524.5 L246.9 523.0 L253.1 521.2 L259.3 519.1 L265.5 516.6 L271.7 513.7 L277.9 510.3 L284.1 506.5 L290.3 502.2 L296.5 497.4 L302.7 492.2 L308.9 486.4 L315.1 479.9 L321.3 472.6 L327.5 464.4 L333.7 454.9 L339.9 444.3 L346.1 433.0 L352.3 421.5 L358.5 410.8 L364.7 402.0 L370.9 395.6 L377.1 392.0 L383.3 391.0 L389.5 392.4 L395.7 395.8 L401.9 401.0 L408.1 407.9 L414.3 416.3 L420.5 425.9 L426.7 436.3 L432.9 446.9 L439.1 457.3 L445.3 467.1 L451.5 476.0 L457.7 483.8 L463.9 490.5 L470.1 496.2 L476.3 501.0 L482.5 505.0 L488.7 508.3 L494.9 511.0 L501.1 513.3 L507.3 515.2 L513.5 516.8 L519.7 518.2 L525.9 519.3 L532.1 520.3 L538.3 521.2 L544.5 521.9 L550.7 522.6 L556.9 523.2 L563.1 523.8 L569.3 524.3 L575.5 524.8 L581.7 525.2 L587.9 525.6 L594.1 526.0 L600.3 526.4 L606.5 526.7 L612.7 527.1 L618.9 527.4 L625.1 527.7 L631.3 527.9 L637.5 528.2 L643.7 528.4 L649.9 528.7 L656.1 528.9 L662.3 529.1 L668.5 529.2 L674.7 529.4 L680.8 529.5" stroke="#9a8406"/>
<path d="M67.2 530.1 L73.3 530.1 L79.5 530.1 L85.7 530.0 L91.9 530.0 L98.1 530.0 L104.3 530.0 L110.5 529.9 L116.7 529.9 L122.9 529.9 L129.1 529.9 L135.3 529.8 L141.5 529.8 L147.7 529.8 L153.9 529.7 L160.1 529.7 L166.3 529.6 L172.5 529.6 L178.7 529.5 L184.9 529.4 L191.1 529.3 L197.3 529.1 L203.5 528.9 L209.7 528.6 L215.9 528.2 L222.1 527.6 L228.3 527.0 L234.5 526.1 L240.7 525.0 L246.9 523.6 L253.1 521.9 L259.3 519.8 L265.5 517.3 L271.7 514.4 L277.9 511.0 L284.1 507.2 L290.3 502.9 L296.5 498.2 L302.7 493.1 L308.9 487.7 L315.1 482.1 L321.3 476.3 L327.5 470.6 L333.7 464.9 L339.9 459.4 L346.1 454.2 L352.3 449.5 L358.5 445.2 L364.7 441.5 L370.9 438.4 L377.1 436.1 L383.3 434.5 L389.5 433.7 L395.7 433.7 L401.9 434.5 L408.1 436.1 L414.3 438.5 L420.5 441.6 L426.7 445.3 L432.9 449.6 L439.1 454.3 L445.3 459.3 L451.5 464.5 L457.7 469.8 L463.9 475.0 L470.1 480.0 L476.3 484.7 L482.5 489.1 L488.7 493.2 L494.9 496.8 L501.1 500.1 L507.3 503.0 L513.5 505.5 L519.7 507.8 L525.9 509.8 L532.1 511.5 L538.3 513.1 L544.5 514.6 L550.7 515.9 L556.9 517.1 L563.1 518.2 L569.3 519.3 L575.5 520.2 L581.7 521.2 L587.9 522.0 L594.1 522.8 L600.3 523.6 L606.5 524.3 L612.7 524.9 L618.9 525.5 L625.1 526.0 L631.3 526.5 L637.5 526.9 L643.7 527.3 L649.9 527.6 L656.1 527.9 L662.3 528.2 L668.5 528.4 L674.7 528.6 L680.8 528.8" stroke="#b29a06"/>
<path d="M67.2 530.4 L73.3 530.4 L79.5 530.4 L85.7 530.3 L91.9 530.3 L98.1 530.2 L104.3 530.1 L110.5 530.1 L116.7 530.0 L122.9 529.9 L129.1 529.8 L135.3 529.7 L141.5 529.5 L147.7 529.4 L153.9 529.2 L160.1 529.0 L166.3 528.8 L172.5 528.6 L178.7 528.3 L184.9 528.0 L191.1 527.7 L197.3 527.4 L203.5 527.0 L209.7 526.6 L215.9 526.1 L222.1 525.5 L228.3 524.8 L234.5 524.0 L240.7 523.0 L246.9 521.8 L253.1 520.3 L259.3 518.5 L265.5 516.3 L271.7 513.7 L277.9 510.6 L284.1 507.1 L290.3 503.1 L296.5 498.8 L302.7 494.4 L308.9 489.8 L315.1 485.3 L321.3 481.1 L327.5 477.2 L333.7 473.7 L339.9 470.5 L346.1 467.6 L352.3 464.9 L358.5 462.2 L364.7 459.6 L370.9 457.2 L377.1 455.1 L383.3 453.5 L389.5 452.5 L395.7 452.3 L401.9 452.6 L408.1 453.4 L414.3 454.4 L420.5 455.7 L426.7 457.1 L432.9 458.9 L439.1 460.9 L445.3 463.3 L451.5 466.0 L457.7 469.0 L463.9 472.3 L470.1 475.7 L476.3 479.2 L482.5 482.7 L488.7 486.2 L494.9 489.5 L501.1 492.7 L507.3 495.8 L513.5 498.6 L519.7 501.3 L525.9 503.7 L532.1 505.9 L538.3 507.9 L544.5 509.8 L550.7 511.4 L556.9 512.9 L563.1 514.3 L569.3 515.6 L575.5 516.7 L581.7 517.8 L587.9 518.7 L594.1 519.6 L600.3 520.5 L606.5 521.3 L612.7 522.0 L618.9 522.7 L625.1 523.3 L631.3 524.0 L637.5 524.5 L643.7 525.1 L649.9 525.6 L656.1 526.0 L662.3 526.5 L668.5 526.9 L674.7 527.2 L680.8 527.6" stroke="#c7ab0a"/>
<path d="M67.2 530.2 L73.3 530.1 L79.5 530.1 L85.7 530.0 L91.9 529.9 L98.1 529.8 L104.3 529.7 L110.5 529.6 L116.7 529.4 L122.9 529.3 L129.1 529.1 L135.3 528.9 L141.5 528.7 L147.7 528.5 L153.9 528.3 L160.1 528.0 L166.3 527.7 L172.5 527.4 L178.7 527.0 L184.9 526.6 L191.1 526.2 L197.3 525.8 L203.5 525.3 L209.7 524.7 L215.9 524.0 L222.1 523.3 L228.3 522.5 L234.5 521.5 L240.7 520.3 L246.9 519.0 L253.1 517.4 L259.3 515.5 L265.5 513.3 L271.7 510.8 L277.9 508.0 L284.1 504.9 L290.3 501.6 L296.5 498.1 L302.7 494.5 L308.9 490.9 L315.1 487.4 L321.3 484.1 L327.5 481.1 L333.7 478.4 L339.9 476.0 L346.1 473.8 L352.3 471.8 L358.5 469.8 L364.7 468.0 L370.9 466.2 L377.1 464.7 L383.3 463.6 L389.5 462.8 L395.7 462.4 L401.9 462.3 L408.1 462.3 L414.3 462.4 L420.5 462.6 L426.7 462.9 L432.9 463.3 L439.1 464.1 L445.3 465.2 L451.5 466.7 L457.7 468.6 L463.9 470.9 L470.1 473.5 L476.3 476.3 L482.5 479.2 L488.7 482.3 L494.9 485.4 L501.1 488.5 L507.3 491.5 L513.5 494.4 L519.7 497.1 L525.9 499.6 L532.1 501.9 L538.3 504.0 L544.5 506.0 L550.7 507.8 L556.9 509.4 L563.1 510.9 L569.3 512.2 L575.5 513.5 L581.7 514.6 L587.9 515.7 L594.1 516.7 L600.3 517.6 L606.5 518.5 L612.7 519.3 L618.9 520.1 L625.1 520.9 L631.3 521.6 L637.5 522.3 L643.7 522.9 L649.9 523.5 L656.1 524.1 L662.3 524.6 L668.5 525.1 L674.7 525.6 L680.8 526.0" stroke="#dcbc0c"/>
<path d="M67.2 529.5 L73.3 529.3 L79.5 529.2 L85.7 529.0 L91.9 528.8 L98.1 528.6 L104.3 528.4 L110.5 528.2 L116.7 527.9 L122.9 527.6 L129.1 527.3 L135.3 527.0 L141.5 526.6 L147.7 526.3 L153.9 525.9 L160.1 525.4 L166.3 525.0 L172.5 524.5 L178.7 523.9 L184.9 523.4 L191.1 522.8 L197.3 522.1 L203.5 521.4 L209.7 520.7 L215.9 519.8 L222.1 518.9 L228.3 517.9 L234.5 516.8 L240.7 515.5 L246.9 514.1 L253.1 512.4 L259.3 510.6 L265.5 508.6 L271.7 506.4 L277.9 504.0 L284.1 501.4 L290.3 498.6 L296.5 495.8 L302.7 493.0 L308.9 490.1 L315.1 487.4 L321.3 484.7 L327.5 482.3 L333.7 480.1 L339.9 478.0 L346.1 476.1 L352.3 474.4 L358.5 472.7 L364.7 471.0 L370.9 469.3 L377.1 467.8 L383.3 466.4 L389.5 465.4 L395.7 464.9 L401.9 464.7 L408.1 464.8 L414.3 465.2 L420.5 465.7 L426.7 466.3 L432.9 466.9 L439.1 467.8 L445.3 468.9 L451.5 470.2 L457.7 471.8 L463.9 473.7 L470.1 475.8 L476.3 478.1 L482.5 480.5 L488.7 483.1 L494.9 485.6 L501.1 488.1 L507.3 490.6 L513.5 493.0 L519.7 495.3 L525.9 497.4 L532.1 499.5 L538.3 501.3 L544.5 503.1 L550.7 504.7 L556.9 506.2 L563.1 507.5 L569.3 508.8 L575.5 510.0 L581.7 511.2 L587.9 512.2 L594.1 513.2 L600.3 514.2 L606.5 515.1 L612.7 516.0 L618.9 516.9 L625.1 517.7 L631.3 518.5 L637.5 519.3 L643.7 520.0 L649.9 520.7 L656.1 521.4 L662.3 522.0 L668.5 522.6 L674.7 523.2 L680.8 523.8" stroke="#8b0000"/>
<path d="M67.2 529.3 L73.3 529.2 L79.5 529.0 L85.7 528.8 L91.9 528.7 L98.1 528.4 L104.3 528.2 L110.5 528.0 L116.7 527.7 L122.9 527.4 L129.1 527.1 L135.3 526.7 L141.5 526.3 L147.7 525.9 L153.9 525.5 L160.1 525.1 L166.3 524.6 L172.5 524.1 L178.7 523.5 L184.9 522.9 L191.1 522.3 L197.3 521.6 L203.5 520.9 L209.7 520.1 L215.9 519.2 L222.1 518.3 L228.3 517.2 L234.5 516.1 L240.7 514.8 L246.9 513.4 L253.1 511.8 L259.3 510.0 L265.5 508.0 L271.7 505.9 L277.9 503.6 L284.1 501.1 L290.3 498.5 L296.5 495.8 L302.7 493.1 L308.9 490.4 L315.1 487.8 L321.3 485.2 L327.5 482.8 L333.7 480.6 L339.9 478.5 L346.1 476.6 L352.3 474.6 L358.5 472.8 L364.7 470.9 L370.9 469.0 L377.1 467.3 L383.3 465.9 L389.5 464.9 L395.7 464.3 L401.9 464.2 L408.1 464.3 L414.3 464.6 L420.5 465.1 L426.7 465.5 L432.9 466.1 L439.1 466.8 L445.3 467.8 L451.5 469.0 L457.7 470.5 L463.9 472.3 L470.1 474.3 L476.3 476.5 L482.5 478.8 L488.7 481.3 L494.9 483.8 L501.1 486.3 L507.3 488.8 L513.5 491.2 L519.7 493.5 L525.9 495.6 L532.1 497.7 L538.3 499.6 L544.5 501.4 L550.7 503.0 L556.9 504.6 L563.1 506.0 L569.3 507.3 L575.5 508.6 L581.7 509.8 L587.9 510.9 L594.1 511.9 L600.3 513.0 L606.5 513.9 L612.7 514.9 L618.9 515.8 L625.1 516.6 L631.3 517.5 L637.5 518.3 L643.7 519.1 L649.9 519.8 L656.1 520.5 L662.3 521.2 L668.5 521.9 L674.7 522.5 L680.8 523.1" stroke="#a01c16"/>
<path d="M67.2 529.4 L73.3 529.2 L79.5 529.1 L85.7 528.9 L91.9 528.7 L98.1 528.5 L104.3 528.2 L110.5 528.0 L116.7 527.7 L122.9 527.4 L129.1 527.1 L135.3 526.7 L141.5 526.4 L147.7 525.9 L153.9 525.5 L160.1 525.1 L166.3 524.6 L172.5 524.0 L178.7 523.5 L184.9 522.9 L191.1 522.2 L197.3 521.5 L203.5 520.8 L209.7 520.0 L215.9 519.2 L222.1 518.2 L228.3 517.2 L234.5 516.0 L240.7 514.7 L246.9 513.2 L253.1 511.6 L259.3 509.8 L265.5 507.7 L271.7 505.4 L277.9 502.9 L284.1 500.2 L290.3 497.3 L296.5 494.3 L302.7 491.2 L308.9 488.1 L315.1 485.1 L321.3 482.1 L327.5 479.3 L333.7 476.7 L339.9 474.1 L346.1 471.7 L352.3 469.4 L358.5 467.2 L364.7 465.2 L370.9 463.6 L377.1 462.2 L383.3 461.3 L389.5 460.8 L395.7 460.6 L401.9 460.6 L408.1 460.7 L414.3 461.0 L420.5 461.5 L426.7 462.1 L432.9 463.0 L439.1 464.3 L445.3 465.8 L451.5 467.7 L457.7 469.9 L463.9 472.3 L470.1 474.9 L476.3 477.6 L482.5 480.4 L488.7 483.2 L494.9 485.9 L501.1 488.6 L507.3 491.2 L513.5 493.7 L519.7 496.0 L525.9 498.1 L532.1 500.1 L538.3 501.9 L544.5 503.6 L550.7 505.2 L556.9 506.6 L563.1 508.0 L569.3 509.2 L575.5 510.4 L581.7 511.5 L587.9 512.6 L594.1 513.6 L600.3 514.6 L606.5 515.5 L612.7 516.4 L618.9 517.3 L625.1 518.1 L631.3 518.9 L637.5 519.7 L643.7 520.4 L649.9 521.1 L656.1 521.8 L662.3 522.5 L668.5 523.1 L674.7 523.6 L680.8 524.2" stroke="#b5362b"/>
<path d="M67.2 529.5 L73.3 529.3 L79.5 529.2 L85.7 529.0 L91.9 528.8 L98.1 528.6 L104.3 528.4 L110.5 528.1 L116.7 527.9 L122.9 527.6 L129.1 527.3 L135.3 526.9 L141.5 526.6 L147.7 526.2 L153.9 525.8 L160.1 525.3 L166.3 524.9 L172.5 524.4 L178.7 523.8 L184.9 523.3 L191.1 522.7 L197.3 522.0 L203.5 521.3 L209.7 520.6 L215.9 519.8 L222.1 518.9 L228.3 518.0 L234.5 516.9 L240.7 515.6 L246.9 514.2 L253.1 512.6 L259.3 510.7 L265.5 508.5 L271.7 506.1 L277.9 503.3 L284.1 500.2 L290.3 496.9 L296.5 493.4 L302.7 489.7 L308.9 485.9 L315.1 482.1 L321.3 478.2 L327.5 474.4 L333.7 470.6 L339.9 466.9 L346.1 463.4 L352.3 460.3 L358.5 457.6 L364.7 455.6 L370.9 454.1 L377.1 453.3 L383.3 452.8 L389.5 452.5 L395.7 452.4 L401.9 452.5 L408.1 452.8 L414.3 453.4 L420.5 454.5 L426.7 455.9 L432.9 457.9 L439.1 460.3 L445.3 463.0 L451.5 466.1 L457.7 469.5 L463.9 473.1 L470.1 476.7 L476.3 480.3 L482.5 483.9 L488.7 487.3 L494.9 490.6 L501.1 493.7 L507.3 496.6 L513.5 499.2 L519.7 501.6 L525.9 503.7 L532.1 505.7 L538.3 507.5 L544.5 509.1 L550.7 510.5 L556.9 511.8 L563.1 513.0 L569.3 514.1 L575.5 515.2 L581.7 516.2 L587.9 517.1 L594.1 517.9 L600.3 518.7 L606.5 519.5 L612.7 520.3 L618.9 521.0 L625.1 521.6 L631.3 522.3 L637.5 522.9 L643.7 523.5 L649.9 524.0 L656.1 524.5 L662.3 525.0 L668.5 525.5 L674.7 525.9 L680.8 526.3" stroke="#c85040"/>
<path d="M67.2 529.4 L73.3 529.3 L79.5 529.2 L85.7 529.1 L91.9 528.9 L98.1 528.8 L104.3 528.7 L110.5 528.5 L116.7 528.3 L122.9 528.2 L129.1 528.0 L135.3 527.8 L141.5 527.6 L147.7 527.4 L153.9 527.1 L160.1 526.9 L166.3 526.6 L172.5 526.3 L178.7 525.9 L184.9 525.5 L191.1 525.1 L197.3 524.6 L203.5 524.0 L209.7 523.3 L215.9 522.6 L222.1 521.7 L228.3 520.7 L234.5 519.5 L240.7 518.2 L246.9 516.7 L253.1 514.9 L259.3 512.9 L265.5 510.5 L271.7 507.8 L277.9 504.7 L284.1 501.2 L290.3 497.1 L296.5 492.4 L302.7 487.2 L308.9 481.4 L315.1 475.2 L321.3 468.7 L327.5 462.0 L333.7 455.5 L339.9 449.4 L346.1 444.1 L352.3 439.6 L358.5 436.2 L364.7 433.8 L370.9 432.3 L377.1 431.3 L383.3 430.9 L389.5 430.9 L395.7 431.4 L401.9 432.7 L408.1 435.1 L414.3 438.7 L420.5 443.3 L426.7 448.6 L432.9 454.2 L439.1 459.8 L445.3 465.0 L451.5 469.9 L457.7 474.4 L463.9 478.7 L470.1 482.7 L476.3 486.6 L482.5 490.3 L488.7 493.8 L494.9 497.1 L501.1 500.2 L507.3 503.1 L513.5 505.7 L519.7 508.1 L525.9 510.3 L532.1 512.2 L538.3 513.9 L544.5 515.4 L550.7 516.7 L556.9 517.9 L563.1 518.9 L569.3 519.8 L575.5 520.6 L581.7 521.2 L587.9 521.9 L594.1 522.4 L600.3 522.9 L606.5 523.3 L612.7 523.7 L618.9 524.1 L625.1 524.5 L631.3 524.8 L637.5 525.1 L643.7 525.4 L649.9 525.7 L656.1 526.0 L662.3 526.2 L668.5 526.5 L674.7 526.7 L680.8 526.9" stroke="#db6b53"/>
<path d="M67.2 530.4 L73.3 530.4 L79.5 530.4 L85.7 530.3 L91.9 530.3 L98.1 530.2 L104.3 530.2 L110.5 530.1 L116.7 530.0 L122.9 530.0 L129.1 529.9 L135.3 529.7 L141.5 529.6 L147.7 529.5 L153.9 529.3 L160.1 529.1 L166.3 528.9 L172.5 528.6 L178.7 528.3 L184.9 528.0 L191.1 527.6 L197.3 527.1 L203.5 526.5 L209.7 525.8 L215.9 525.0 L222.1 524.0 L228.3 522.8 L234.5 521.3 L240.7 519.6 L246.9 517.6 L253.1 515.2 L259.3 512.3 L265.5 509.1 L271.7 505.4 L277.9 501.2 L284.1 496.5 L290.3 491.4 L296.5 485.8 L302.7 479.6 L308.9 472.7 L315.1 465.0 L321.3 456.1 L327.5 446.0 L333.7 434.8 L339.9 423.2 L346.1 412.2 L352.3 403.1 L358.5 397.2 L364.7 394.9 L370.9 396.1 L377.1 399.9 L383.3 405.5 L389.5 412.1 L395.7 419.2 L401.9 426.8 L408.1 434.8 L414.3 443.2 L420.5 451.9 L426.7 460.6 L432.9 469.1 L439.1 477.1 L445.3 484.3 L451.5 490.7 L457.7 496.3 L463.9 501.1 L470.1 505.1 L476.3 508.5 L482.5 511.3 L488.7 513.6 L494.9 515.6 L501.1 517.2 L507.3 518.6 L513.5 519.8 L519.7 520.9 L525.9 521.8 L532.1 522.6 L538.3 523.3 L544.5 523.9 L550.7 524.5 L556.9 525.1 L563.1 525.6 L569.3 526.0 L575.5 526.4 L581.7 526.8 L587.9 527.2 L594.1 527.5 L600.3 527.8 L606.5 528.1 L612.7 528.4 L618.9 528.6 L625.1 528.9 L631.3 529.1 L637.5 529.2 L643.7 529.4 L649.9 529.6 L656.1 529.7 L662.3 529.8 L668.5 529.9 L674.7 530.0 L680.8 530.1" stroke="#ec8868"/>
<path d="M67.2 530.5 L73.3 530.5 L79.5 530.4 L85.7 530.4 L91.9 530.4 L98.1 530.3 L104.3 530.3 L110.5 530.2 L116.7 530.2 L122.9 530.1 L129.1 530.0 L135.3 529.9 L141.5 529.8 L147.7 529.7 L153.9 529.6 L160.1 529.4 L166.3 529.2 L172.5 529.0 L178.7 528.7 L184.9 528.4 L191.1 528.0 L197.3 527.5 L203.5 527.0 L209.7 526.2 L215.9 525.4 L222.1 524.3 L228.3 523.0 L234.5 521.4 L240.7 519.6 L246.9 517.4 L253.1 514.9 L259.3 512.0 L265.5 508.5 L271.7 504.6 L277.9 500.0 L284.1 494.6 L290.3 488.3 L296.5 480.9 L302.7 472.2 L308.9 462.0 L315.1 450.4 L321.3 437.6 L327.5 423.9 L333.7 410.0 L339.9 396.9 L346.1 385.4 L352.3 376.7 L358.5 371.4 L364.7 370.1 L370.9 372.6 L377.1 378.7 L383.3 387.9 L389.5 399.5 L395.7 412.9 L401.9 427.6 L408.1 442.7 L414.3 457.5 L420.5 471.1 L426.7 483.0 L432.9 492.9 L439.1 500.6 L445.3 506.5 L451.5 510.9 L457.7 514.2 L463.9 516.7 L470.1 518.7 L476.3 520.3 L482.5 521.6 L488.7 522.6 L494.9 523.5 L501.1 524.3 L507.3 524.9 L513.5 525.5 L519.7 526.0 L525.9 526.4 L532.1 526.8 L538.3 527.1 L544.5 527.4 L550.7 527.7 L556.9 528.0 L563.1 528.2 L569.3 528.5 L575.5 528.7 L581.7 528.9 L587.9 529.0 L594.1 529.2 L600.3 529.4 L606.5 529.5 L612.7 529.6 L618.9 529.7 L625.1 529.8 L631.3 529.9 L637.5 530.0 L643.7 530.1 L649.9 530.2 L656.1 530.2 L662.3 530.3 L668.5 530.3 L674.7 530.4 L680.8 530.4" stroke="#041e3c"/>
<path d="M67.2 530.6 L73.3 530.6 L79.5 530.6 L85.7 530.6 L91.9 530.5 L98.1 530.5 L104.3 530.5 L110.5 530.5 L116.7 530.5 L122.9 530.5 L129.1 530.4 L135.3 530.4 L141.5 530.3 L147.7 530.3 L153.9 530.2 L160.1 530.1 L166.3 530.0 L172.5 529.8 L178.7 529.6 L184.9 529.4 L191.1 529.0 L197.3 528.5 L203.5 528.0 L209.7 527.2 L215.9 526.3 L222.1 525.1 L228.3 523.6 L234.5 521.8 L240.7 519.7 L246.9 517.2 L253.1 514.3 L259.3 510.9 L265.5 507.0 L271.7 502.7 L277.9 497.9 L284.1 492.6 L290.3 486.6 L296.5 479.8 L302.7 471.9 L308.9 462.6 L315.1 451.7 L321.3 438.9 L327.5 424.7 L333.7 409.8 L339.9 395.4 L346.1 383.0 L352.3 373.8 L358.5 368.7 L364.7 367.8 L370.9 371.0 L377.1 377.7 L383.3 387.5 L389.5 399.6 L395.7 413.4 L401.9 428.2 L408.1 443.0 L414.3 457.3 L420.5 470.3 L426.7 481.7 L432.9 491.3 L439.1 499.1 L445.3 505.4 L451.5 510.3 L457.7 514.1 L463.9 516.9 L470.1 519.2 L476.3 520.9 L482.5 522.2 L488.7 523.3 L494.9 524.1 L501.1 524.8 L507.3 525.4 L513.5 525.8 L519.7 526.2 L525.9 526.6 L532.1 526.9 L538.3 527.2 L544.5 527.4 L550.7 527.7 L556.9 527.9 L563.1 528.1 L569.3 528.3 L575.5 528.5 L581.7 528.7 L587.9 528.8 L594.1 529.0 L600.3 529.1 L606.5 529.3 L612.7 529.4 L618.9 529.5 L625.1 529.6 L631.3 529.7 L637.5 529.8 L643.7 529.9 L649.9 530.0 L656.1 530.1 L662.3 530.1 L668.5 530.2 L674.7 530.2 L680.8 530.3" stroke="#1b3e5e"/>
<path d="M67.2 530.6 L73.3 530.6 L79.5 530.6 L85.7 530.6 L91.9 530.5 L98.1 530.5 L104.3 530.5 L110.5 530.5 L116.7 530.5 L122.9 530.5 L129.1 530.4 L135.3 530.4 L141.5 530.4 L147.7 530.3 L153.9 530.2 L160.1 530.1 L166.3 530.0 L172.5 529.9 L178.7 529.6 L184.9 529.4 L191.1 529.0 L197.3 528.6 L203.5 528.0 L209.7 527.2 L215.9 526.3 L222.1 525.1 L228.3 523.6 L234.5 521.8 L240.7 519.7 L246.9 517.1 L253.1 514.1 L259.3 510.7 L265.5 506.9 L271.7 502.5 L277.9 497.6 L284.1 492.2 L290.3 486.1 L296.5 479.2 L302.7 471.1 L308.9 461.6 L315.1 450.4 L321.3 437.3 L327.5 422.7 L333.7 407.4 L339.9 392.8 L346.1 380.2 L352.3 371.1 L358.5 366.1 L364.7 365.5 L370.9 369.0 L377.1 376.2 L383.3 386.3 L389.5 398.8 L395.7 412.9 L401.9 427.9 L408.1 442.9 L414.3 457.3 L420.5 470.3 L426.7 481.7 L432.9 491.4 L439.1 499.2 L445.3 505.4 L451.5 510.3 L457.7 514.1 L463.9 517.0 L470.1 519.2 L476.3 520.9 L482.5 522.2 L488.7 523.3 L494.9 524.1 L501.1 524.8 L507.3 525.4 L513.5 525.8 L519.7 526.2 L525.9 526.6 L532.1 526.9 L538.3 527.2 L544.5 527.4 L550.7 527.6 L556.9 527.9 L563.1 528.1 L569.3 528.3 L575.5 528.5 L581.7 528.6 L587.9 528.8 L594.1 529.0 L600.3 529.1 L606.5 529.2 L612.7 529.4 L618.9 529.5 L625.1 529.6 L631.3 529.7 L637.5 529.8 L643.7 529.9 L649.9 530.0 L656.1 530.1 L662.3 530.1 L668.5 530.2 L674.7 530.2 L680.8 530.3" stroke="#2b5e80"/>
<path d="M67.2 530.6 L73.3 530.6 L79.5 530.6 L85.7 530.5 L91.9 530.5 L98.1 530.5 L104.3 530.5 L110.5 530.5 L116.7 530.5 L122.9 530.4 L129.1 530.4 L135.3 530.4 L141.5 530.3 L147.7 530.3 L153.9 530.2 L160.1 530.1 L166.3 529.9 L172.5 529.8 L178.7 529.6 L184.9 529.3 L191.1 528.9 L197.3 528.4 L203.5 527.8 L209.7 527.1 L215.9 526.1 L222.1 524.9 L228.3 523.5 L234.5 521.7 L240.7 519.6 L246.9 517.1 L253.1 514.2 L259.3 510.9 L265.5 507.0 L271.7 502.7 L277.9 497.7 L284.1 492.2 L290.3 485.8 L296.5 478.6 L302.7 470.2 L308.9 460.3 L315.1 448.8 L321.3 435.5 L327.5 420.8 L333.7 405.5 L339.9 390.7 L346.1 378.2 L352.3 369.2 L358.5 364.7 L364.7 364.9 L370.9 369.6 L377.1 377.9 L383.3 388.8 L389.5 401.7 L395.7 415.8 L401.9 430.3 L408.1 444.7 L414.3 458.5 L420.5 471.0 L426.7 482.2 L432.9 491.7 L439.1 499.5 L445.3 505.8 L451.5 510.8 L457.7 514.7 L463.9 517.6 L470.1 519.9 L476.3 521.6 L482.5 522.9 L488.7 523.9 L494.9 524.7 L501.1 525.3 L507.3 525.8 L513.5 526.2 L519.7 526.6 L525.9 526.9 L532.1 527.2 L538.3 527.5 L544.5 527.7 L550.7 527.9 L556.9 528.1 L563.1 528.3 L569.3 528.5 L575.5 528.7 L581.7 528.9 L587.9 529.0 L594.1 529.2 L600.3 529.3 L606.5 529.4 L612.7 529.5 L618.9 529.6 L625.1 529.7 L631.3 529.8 L637.5 529.9 L643.7 530.0 L649.9 530.1 L656.1 530.1 L662.3 530.2 L668.5 530.2 L674.7 530.3 L680.8 530.3" stroke="#3f7ea2"/>
<path d="M67.2 530.6 L73.3 530.6 L79.5 530.6 L85.7 530.6 L91.9 530.6 L98.1 530.6 L104.3 530.6 L110.5 530.5 L116.7 530.5 L122.9 530.5 L129.1 530.5 L135.3 530.5 L141.5 530.4 L147.7 530.4 L153.9 530.3 L160.1 530.3 L166.3 530.2 L172.5 530.0 L178.7 529.8 L184.9 529.6 L191.1 529.2 L197.3 528.7 L203.5 528.1 L209.7 527.4 L215.9 526.4 L222.1 525.2 L228.3 523.6 L234.5 521.8 L240.7 519.5 L246.9 516.9 L253.1 513.8 L259.3 510.2 L265.5 506.2 L271.7 501.7 L277.9 496.7 L284.1 491.2 L290.3 485.1 L296.5 478.2 L302.7 470.2 L308.9 460.7 L315.1 449.2 L321.3 435.5 L327.5 420.0 L333.7 403.6 L339.9 388.0 L346.1 375.2 L352.3 366.9 L358.5 363.8 L364.7 365.7 L370.9 371.9 L377.1 381.1 L383.3 392.4 L389.5 405.0 L395.7 418.4 L401.9 432.3 L408.1 446.1 L414.3 459.4 L420.5 471.7 L426.7 482.6 L432.9 491.9 L439.1 499.6 L445.3 505.9 L451.5 510.8 L457.7 514.6 L463.9 517.6 L470.1 519.8 L476.3 521.6 L482.5 522.9 L488.7 524.0 L494.9 524.8 L501.1 525.4 L507.3 525.9 L513.5 526.4 L519.7 526.7 L525.9 527.0 L532.1 527.3 L538.3 527.5 L544.5 527.7 L550.7 527.9 L556.9 528.1 L563.1 528.3 L569.3 528.4 L575.5 528.6 L581.7 528.8 L587.9 528.9 L594.1 529.0 L600.3 529.2 L606.5 529.3 L612.7 529.4 L618.9 529.5 L625.1 529.6 L631.3 529.7 L637.5 529.8 L643.7 529.9 L649.9 530.0 L656.1 530.0 L662.3 530.1 L668.5 530.2 L674.7 530.2 L680.8 530.3" stroke="#539cc2"/>
<path d="M67.2 530.6 L73.3 530.6 L79.5 530.6 L85.7 530.6 L91.9 530.6 L98.1 530.6 L104.3 530.6 L110.5 530.6 L116.7 530.5 L122.9 530.5 L129.1 530.5 L135.3 530.5 L141.5 530.5 L147.7 530.4 L153.9 530.4 L160.1 530.3 L166.3 530.2 L172.5 530.0 L178.7 529.8 L184.9 529.6 L191.1 529.2 L197.3 528.8 L203.5 528.2 L209.7 527.4 L215.9 526.4 L222.1 525.1 L228.3 523.6 L234.5 521.7 L240.7 519.4 L246.9 516.7 L253.1 513.6 L259.3 510.0 L265.5 505.9 L271.7 501.3 L277.9 496.3 L284.1 490.8 L290.3 484.7 L296.5 477.8 L302.7 469.8 L308.9 460.2 L315.1 448.6 L321.3 434.6 L327.5 418.7 L333.7 401.9 L339.9 386.1 L346.1 373.5 L352.3 365.7 L358.5 363.6 L364.7 366.7 L370.9 374.0 L377.1 384.0 L383.3 395.7 L389.5 408.2 L395.7 421.3 L401.9 434.5 L408.1 447.7 L414.3 460.4 L420.5 472.2 L426.7 482.8 L432.9 492.0 L439.1 499.6 L445.3 505.8 L451.5 510.8 L457.7 514.6 L463.9 517.6 L470.1 519.9 L476.3 521.6 L482.5 523.0 L488.7 524.0 L494.9 524.8 L501.1 525.5 L507.3 526.0 L513.5 526.4 L519.7 526.7 L525.9 527.0 L532.1 527.3 L538.3 527.5 L544.5 527.7 L550.7 527.9 L556.9 528.1 L563.1 528.3 L569.3 528.4 L575.5 528.6 L581.7 528.7 L587.9 528.9 L594.1 529.0 L600.3 529.1 L606.5 529.3 L612.7 529.4 L618.9 529.5 L625.1 529.6 L631.3 529.7 L637.5 529.8 L643.7 529.9 L649.9 529.9 L656.1 530.0 L662.3 530.1 L668.5 530.1 L674.7 530.2 L680.8 530.2" stroke="#68b8e0"/>
<line x1="362.6" x2="362.6" y1="315.3" y2="337.4" stroke="#2f2f2f" stroke-width="1.75"/>
<line x1="362.2" x2="362.2" y1="315.3" y2="337.4" stroke="#474747" stroke-width="1.75"/>
<line x1="361.8" x2="361.8" y1="315.3" y2="337.4" stroke="#5f5f5f" stroke-width="1.75"/>
<line x1="361.4" x2="361.4" y1="315.3" y2="337.4" stroke="#777777" stroke-width="1.75"/>
<line x1="361.0" x2="361.0" y1="315.3" y2="337.4" stroke="#8f8f8f" stroke-width="1.75"/>
<line x1="360.6" x2="360.6" y1="315.3" y2="337.4" stroke="#a7a7a7" stroke-width="1.75"/>
<line x1="364.9" x2="364.9" y1="315.3" y2="337.4" stroke="#6b5b06" stroke-width="1.75"/>
<line x1="373.7" x2="373.7" y1="315.3" y2="337.4" stroke="#847006" stroke-width="1.75"/>
<line x1="391.7" x2="391.7" y1="315.3" y2="337.4" stroke="#9a8406" stroke-width="1.75"/>
<line x1="411.5" x2="411.5" y1="315.3" y2="337.4" stroke="#b29a06" stroke-width="1.75"/>
<line x1="421.9" x2="421.9" y1="315.3" y2="337.4" stroke="#c7ab0a" stroke-width="1.75"/>
<line x1="431.9" x2="431.9" y1="315.3" y2="337.4" stroke="#dcbc0c" stroke-width="1.75"/>
<line x1="431.9" x2="431.9" y1="315.3" y2="337.4" stroke="#8b0000" stroke-width="1.75"/>
<line x1="431.9" x2="431.9" y1="315.3" y2="337.4" stroke="#a01c16" stroke-width="1.75"/>
<line x1="428.6" x2="428.6" y1="315.3" y2="337.4" stroke="#b5362b" stroke-width="1.75"/>
<line x1="418.7" x2="418.7" y1="315.3" y2="337.4" stroke="#c85040" stroke-width="1.75"/>
<line x1="399.7" x2="399.7" y1="315.3" y2="337.4" stroke="#db6b53" stroke-width="1.75"/>
<line x1="375.7" x2="375.7" y1="315.3" y2="337.4" stroke="#ec8868" stroke-width="1.75"/>
<line x1="362.0" x2="362.0" y1="315.3" y2="337.4" stroke="#041e3c" stroke-width="1.75"/>
<line x1="361.2" x2="361.2" y1="315.3" y2="337.4" stroke="#1b3e5e" stroke-width="1.75"/>
<line x1="360.2" x2="360.2" y1="315.3" y2="337.4" stroke="#2b5e80" stroke-width="1.75"/>
<line x1="359.4" x2="359.4" y1="315.3" y2="337.4" stroke="#3f7ea2" stroke-width="1.75"/>
<line x1="358.6" x2="358.6" y1="315.3" y2="337.4" stroke="#539cc2" stroke-width="1.75"/>
<line x1="357.8" x2="357.8" y1="315.3" y2="337.4" stroke="#68b8e0" stroke-width="1.75"/>
<line x1="374.0" x2="374.0" y1="315.3" y2="530.6" stroke="#000" stroke-opacity="0.42" stroke-width="1.2" stroke-dasharray="4.1 2.2"/>
</g>
<rect x="67.2" y="315.3" width="613.7" height="215.3" fill="none" stroke="#000" stroke-width="1.5"/>
<line x1="67.2" x2="67.2" y1="530.6" y2="536.9" stroke="#000" stroke-width="1.4"/>
<text x="67.2" y="557.55" text-anchor="middle">−2</text>
<line x1="220.6" x2="220.6" y1="530.6" y2="536.9" stroke="#000" stroke-width="1.4"/>
<text x="220.6" y="557.55" text-anchor="middle">−1</text>
<line x1="374.0" x2="374.0" y1="530.6" y2="536.9" stroke="#000" stroke-width="1.4"/>
<text x="374.0" y="557.55" text-anchor="middle">0</text>
<line x1="527.4" x2="527.4" y1="530.6" y2="536.9" stroke="#000" stroke-width="1.4"/>
<text x="527.4" y="557.55" text-anchor="middle">1</text>
<line x1="680.8" x2="680.8" y1="530.6" y2="536.9" stroke="#000" stroke-width="1.4"/>
<text x="680.8" y="557.55" text-anchor="middle">2</text>
<line x1="60.9" x2="67.2" y1="530.6" y2="530.6" stroke="#000" stroke-width="1.4"/>
<text x="54.45" y="537.8" text-anchor="end">0.0</text>
<line x1="60.9" x2="67.2" y1="470.7" y2="470.7" stroke="#000" stroke-width="1.4"/>
<text x="54.45" y="477.9" text-anchor="end">0.5</text>
<line x1="60.9" x2="67.2" y1="410.8" y2="410.8" stroke="#000" stroke-width="1.4"/>
<text x="54.45" y="418.0" text-anchor="end">1.0</text>
<line x1="60.9" x2="67.2" y1="350.9" y2="350.9" stroke="#000" stroke-width="1.4"/>
<text x="54.45" y="358.1" text-anchor="end">1.5</text>
<text x="67.7" y="304.3" xml:space="preserve" style="white-space:pre">(b)   Land conversion from grass to crop, humidity index &gt; 0.4</text>
<text transform="translate(14.3 423.0) rotate(-90)" text-anchor="middle">Density</text>
<text x="373.8" y="582.8" text-anchor="middle">Changes in land surface temperature (K)</text>
<rect x="67.20" y="628.2" width="25.57" height="26.5" fill="#2f2f2f" stroke="#fff" stroke-width="2.4"/>
<rect x="92.77" y="628.2" width="25.57" height="26.5" fill="#474747" stroke="#fff" stroke-width="2.4"/>
<rect x="118.34" y="628.2" width="25.57" height="26.5" fill="#5f5f5f" stroke="#fff" stroke-width="2.4"/>
<rect x="143.91" y="628.2" width="25.57" height="26.5" fill="#777777" stroke="#fff" stroke-width="2.4"/>
<rect x="169.48" y="628.2" width="25.57" height="26.5" fill="#8f8f8f" stroke="#fff" stroke-width="2.4"/>
<rect x="195.05" y="628.2" width="25.57" height="26.5" fill="#a7a7a7" stroke="#fff" stroke-width="2.4"/>
<rect x="220.62" y="628.2" width="25.57" height="26.5" fill="#6b5b06" stroke="#fff" stroke-width="2.4"/>
<rect x="246.20" y="628.2" width="25.57" height="26.5" fill="#847006" stroke="#fff" stroke-width="2.4"/>
<rect x="271.77" y="628.2" width="25.57" height="26.5" fill="#9a8406" stroke="#fff" stroke-width="2.4"/>
<rect x="297.34" y="628.2" width="25.57" height="26.5" fill="#b29a06" stroke="#fff" stroke-width="2.4"/>
<rect x="322.91" y="628.2" width="25.57" height="26.5" fill="#c7ab0a" stroke="#fff" stroke-width="2.4"/>
<rect x="348.48" y="628.2" width="25.57" height="26.5" fill="#dcbc0c" stroke="#fff" stroke-width="2.4"/>
<rect x="374.05" y="628.2" width="25.57" height="26.5" fill="#8b0000" stroke="#fff" stroke-width="2.4"/>
<rect x="399.62" y="628.2" width="25.57" height="26.5" fill="#a01c16" stroke="#fff" stroke-width="2.4"/>
<rect x="425.19" y="628.2" width="25.57" height="26.5" fill="#b5362b" stroke="#fff" stroke-width="2.4"/>
<rect x="450.76" y="628.2" width="25.57" height="26.5" fill="#c85040" stroke="#fff" stroke-width="2.4"/>
<rect x="476.33" y="628.2" width="25.57" height="26.5" fill="#db6b53" stroke="#fff" stroke-width="2.4"/>
<rect x="501.90" y="628.2" width="25.57" height="26.5" fill="#ec8868" stroke="#fff" stroke-width="2.4"/>
<rect x="527.47" y="628.2" width="25.57" height="26.5" fill="#041e3c" stroke="#fff" stroke-width="2.4"/>
<rect x="553.05" y="628.2" width="25.57" height="26.5" fill="#1b3e5e" stroke="#fff" stroke-width="2.4"/>
<rect x="578.62" y="628.2" width="25.57" height="26.5" fill="#2b5e80" stroke="#fff" stroke-width="2.4"/>
<rect x="604.19" y="628.2" width="25.57" height="26.5" fill="#3f7ea2" stroke="#fff" stroke-width="2.4"/>
<rect x="629.76" y="628.2" width="25.57" height="26.5" fill="#539cc2" stroke="#fff" stroke-width="2.4"/>
<rect x="655.33" y="628.2" width="25.57" height="26.5" fill="#68b8e0" stroke="#fff" stroke-width="2.4"/>
<line x1="80.0" x2="80.0" y1="654.7" y2="661.0" stroke="#000" stroke-width="1.4"/>
<text x="80.0" y="680.8" text-anchor="middle">00 LST</text>
<line x1="233.4" x2="233.4" y1="654.7" y2="661.0" stroke="#000" stroke-width="1.4"/>
<text x="233.4" y="680.8" text-anchor="middle">06 LST</text>
<line x1="386.8" x2="386.8" y1="654.7" y2="661.0" stroke="#000" stroke-width="1.4"/>
<text x="386.8" y="680.8" text-anchor="middle">12 LST</text>
<line x1="540.3" x2="540.3" y1="654.7" y2="661.0" stroke="#000" stroke-width="1.4"/>
<text x="540.3" y="680.8" text-anchor="middle">18 LST</text>
<text x="374.0" y="706.2" text-anchor="middle">Time of day</text>
</svg></body></html>
